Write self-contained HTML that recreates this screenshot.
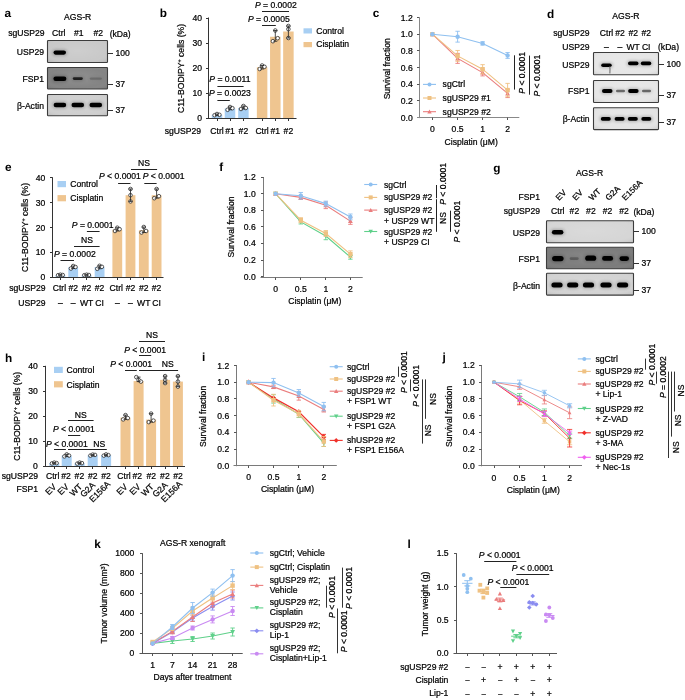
<!DOCTYPE html>
<html><head><meta charset="utf-8"><style>
html,body{margin:0;padding:0;background:#fff;}
svg{display:block;will-change:transform;font-family:"Liberation Sans",sans-serif;font-size:8.6px;}
text{stroke:#000;stroke-width:0.22px;}
</style></head><body>
<svg width="685" height="700" viewBox="0 0 685 700">
<defs><filter id="bl" x="-30%" y="-60%" width="160%" height="220%"><feGaussianBlur stdDeviation="0.75"/></filter>
<filter id="bl2" x="-40%" y="-100%" width="180%" height="300%"><feGaussianBlur stdDeviation="1.4"/></filter>
<radialGradient id="vg" cx="0.5" cy="0.45" r="0.7"><stop offset="0" stop-color="#fff" stop-opacity="0.10"/><stop offset="0.7" stop-color="#fff" stop-opacity="0.0"/><stop offset="1" stop-color="#000" stop-opacity="0.08"/></radialGradient></defs>
<rect width="685" height="700" fill="#fff"/>
<text x="4.4" y="16.8" font-size="11.8" font-weight="bold" fill="#000" style="stroke:none;text-rendering:geometricPrecision">a</text>
<text x="77.7" y="19.5" text-anchor="middle" fill="#000">AGS-R</text>
<text x="8.2" y="35.8" fill="#000">sgUSP29</text>
<text x="58.8" y="35.8" text-anchor="middle" fill="#000">Ctrl</text>
<text x="78.7" y="35.8" text-anchor="middle" fill="#000">#1</text>
<text x="98.2" y="35.8" text-anchor="middle" fill="#000">#2</text>
<text x="109.7" y="37.2" fill="#000">(kDa)</text>
<rect x="47.5" y="40.5" width="60" height="22" fill="#c9c9c9" stroke="none" stroke-width="1"/>
<rect x="47.5" y="40.5" width="60" height="22" fill="url(#vg)"/>
<rect x="47.5" y="40.5" width="60" height="22" rx="0.8" fill="none" stroke="#3c3c3c" stroke-width="1.1"/>
<rect x="47.5" y="67.5" width="60" height="21.5" fill="#848484" stroke="none" stroke-width="1"/>
<rect x="47.5" y="67.5" width="60" height="21.5" fill="url(#vg)"/>
<rect x="47.5" y="67.5" width="60" height="21.5" rx="0.8" fill="none" stroke="#3c3c3c" stroke-width="1.1"/>
<rect x="47.5" y="94.5" width="60" height="21.3" fill="#cfcfcf" stroke="none" stroke-width="1"/>
<rect x="47.5" y="94.5" width="60" height="21.3" fill="url(#vg)"/>
<rect x="47.5" y="94.5" width="60" height="21.3" rx="0.8" fill="none" stroke="#3c3c3c" stroke-width="1.1"/>
<text x="44" y="55.4" text-anchor="end" fill="#000">USP29</text>
<text x="44" y="81.8" text-anchor="end" fill="#000">FSP1</text>
<text x="44" y="109.2" text-anchor="end" fill="#000">β-Actin</text>
<rect x="52.3" y="49.5" width="14.9" height="6.2" rx="3.1" fill="#000" opacity="0.22" filter="url(#bl2)"/>
<rect x="53.5" y="50.5" width="12.5" height="4.2" rx="2.1" fill="#000" opacity="1.0" filter="url(#bl)"/>
<rect x="52.2" y="75.4" width="15.4" height="6.6" rx="3.3" fill="#000" opacity="0.22" filter="url(#bl2)"/>
<rect x="53.4" y="76.4" width="13" height="4.6" rx="2.3" fill="#000" opacity="1.0" filter="url(#bl)"/>
<rect x="71.6" y="76.3" width="12.4" height="4.6" rx="2.3" fill="#000" opacity="0.17" filter="url(#bl2)"/>
<rect x="72.8" y="77.3" width="10" height="2.6" rx="1.3" fill="#000" opacity="0.75" filter="url(#bl)"/>
<rect x="88.6" y="76.4" width="14.4" height="4.4" rx="2.2" fill="#000" opacity="0.04" filter="url(#bl2)"/>
<rect x="89.8" y="77.4" width="12" height="2.4" rx="1.2" fill="#000" opacity="0.18" filter="url(#bl)"/>
<rect x="52.4" y="101.7" width="15.0" height="6.6" rx="3.3" fill="#000" opacity="0.22" filter="url(#bl2)"/>
<rect x="53.6" y="102.7" width="12.6" height="4.6" rx="2.3" fill="#000" opacity="1.0" filter="url(#bl)"/>
<rect x="70.3" y="101.7" width="15.0" height="6.6" rx="3.3" fill="#000" opacity="0.22" filter="url(#bl2)"/>
<rect x="71.5" y="102.7" width="12.6" height="4.6" rx="2.3" fill="#000" opacity="1.0" filter="url(#bl)"/>
<rect x="88.3" y="101.7" width="15.0" height="6.6" rx="3.3" fill="#000" opacity="0.22" filter="url(#bl2)"/>
<rect x="89.5" y="102.7" width="12.6" height="4.6" rx="2.3" fill="#000" opacity="1.0" filter="url(#bl)"/>
<line x1="108" y1="53.5" x2="113" y2="53.5" stroke="#333" stroke-width="1"/>
<text x="115.5" y="56.1" fill="#000">100</text>
<line x1="108" y1="84.5" x2="113" y2="84.5" stroke="#333" stroke-width="1"/>
<text x="115.5" y="86.69999999999999" fill="#000">37</text>
<line x1="108" y1="110.5" x2="113" y2="110.5" stroke="#333" stroke-width="1"/>
<text x="115.5" y="113.1" fill="#000">37</text>
<text x="159.8" y="16.9" font-size="11.8" font-weight="bold" fill="#000" style="stroke:none;text-rendering:geometricPrecision">b</text>
<line x1="208.5" y1="17.5" x2="208.5" y2="118.5" stroke="#333" stroke-width="1"/>
<line x1="206.0" y1="118.5" x2="208.5" y2="118.5" stroke="#333" stroke-width="1"/>
<text x="202.0" y="121.0" text-anchor="end" fill="#000">0</text>
<line x1="206.0" y1="93.5" x2="208.5" y2="93.5" stroke="#333" stroke-width="1"/>
<text x="202.0" y="96.0" text-anchor="end" fill="#000">10</text>
<line x1="206.0" y1="68.5" x2="208.5" y2="68.5" stroke="#333" stroke-width="1"/>
<text x="202.0" y="71.0" text-anchor="end" fill="#000">20</text>
<line x1="206.0" y1="43.5" x2="208.5" y2="43.5" stroke="#333" stroke-width="1"/>
<text x="202.0" y="46.0" text-anchor="end" fill="#000">30</text>
<line x1="206.0" y1="18.5" x2="208.5" y2="18.5" stroke="#333" stroke-width="1"/>
<text x="202.0" y="21.0" text-anchor="end" fill="#000">40</text>
<text transform="translate(184.2,68.5) rotate(-90)" text-anchor="middle" fill="#000">C11-BODIPY<tspan dy="-3" font-size="5.5">+</tspan><tspan dy="3"> cells (%)</tspan></text>
<rect x="211.75" y="114.75" width="10.5" height="3.25" fill="#a8cff3" stroke="none" stroke-width="1"/>
<rect x="224.75" y="108.5" width="10.5" height="9.5" fill="#a8cff3" stroke="none" stroke-width="1"/>
<rect x="238.15" y="108.0" width="10.5" height="10.0" fill="#a8cff3" stroke="none" stroke-width="1"/>
<rect x="256.85" y="67.25" width="10.5" height="50.75" fill="#efc590" stroke="none" stroke-width="1"/>
<rect x="270.05" y="36.75" width="10.5" height="81.25" fill="#efc590" stroke="none" stroke-width="1"/>
<rect x="283.15" y="31.5" width="10.5" height="86.5" fill="#efc590" stroke="none" stroke-width="1"/>
<line x1="208" y1="118.5" x2="296.5" y2="118.5" stroke="#333" stroke-width="1"/>
<line x1="217.5" y1="118.5" x2="217.5" y2="121.0" stroke="#333" stroke-width="1"/>
<line x1="230.5" y1="118.5" x2="230.5" y2="121.0" stroke="#333" stroke-width="1"/>
<line x1="243.5" y1="118.5" x2="243.5" y2="121.0" stroke="#333" stroke-width="1"/>
<line x1="262.5" y1="118.5" x2="262.5" y2="121.0" stroke="#333" stroke-width="1"/>
<line x1="275.5" y1="118.5" x2="275.5" y2="121.0" stroke="#333" stroke-width="1"/>
<line x1="288.5" y1="118.5" x2="288.5" y2="121.0" stroke="#333" stroke-width="1"/>
<circle cx="214.6" cy="115.2" r="1.8" fill="#fff" stroke="#222" stroke-width="0.75"/>
<circle cx="217.0" cy="114.0" r="1.8" fill="#fff" stroke="#222" stroke-width="0.75"/>
<circle cx="219.4" cy="114.8" r="1.8" fill="#fff" stroke="#222" stroke-width="0.75"/>
<line x1="217.0" y1="114.0" x2="217.0" y2="115.25" stroke="#222" stroke-width="0.8"/>
<line x1="215.0" y1="114.0" x2="219.0" y2="114.0" stroke="#222" stroke-width="0.8"/>
<line x1="215.0" y1="115.25" x2="219.0" y2="115.25" stroke="#222" stroke-width="0.8"/>
<circle cx="227.6" cy="109.8" r="1.8" fill="#fff" stroke="#222" stroke-width="0.75"/>
<circle cx="230.0" cy="107.0" r="1.8" fill="#fff" stroke="#222" stroke-width="0.75"/>
<circle cx="232.4" cy="108.2" r="1.8" fill="#fff" stroke="#222" stroke-width="0.75"/>
<line x1="230.0" y1="107.0" x2="230.0" y2="109.75" stroke="#222" stroke-width="0.8"/>
<line x1="228.0" y1="107.0" x2="232.0" y2="107.0" stroke="#222" stroke-width="0.8"/>
<line x1="228.0" y1="109.75" x2="232.0" y2="109.75" stroke="#222" stroke-width="0.8"/>
<circle cx="241.0" cy="109.0" r="1.8" fill="#fff" stroke="#222" stroke-width="0.75"/>
<circle cx="243.4" cy="106.0" r="1.8" fill="#fff" stroke="#222" stroke-width="0.75"/>
<circle cx="245.8" cy="108.0" r="1.8" fill="#fff" stroke="#222" stroke-width="0.75"/>
<line x1="243.4" y1="106.0" x2="243.4" y2="109.0" stroke="#222" stroke-width="0.8"/>
<line x1="241.4" y1="106.0" x2="245.4" y2="106.0" stroke="#222" stroke-width="0.8"/>
<line x1="241.4" y1="109.0" x2="245.4" y2="109.0" stroke="#222" stroke-width="0.8"/>
<circle cx="259.7" cy="69.0" r="1.8" fill="#fff" stroke="#222" stroke-width="0.75"/>
<circle cx="262.1" cy="65.5" r="1.8" fill="#fff" stroke="#222" stroke-width="0.75"/>
<circle cx="264.5" cy="66.8" r="1.8" fill="#fff" stroke="#222" stroke-width="0.75"/>
<line x1="262.1" y1="65.5" x2="262.1" y2="69.0" stroke="#222" stroke-width="0.8"/>
<line x1="260.1" y1="65.5" x2="264.1" y2="65.5" stroke="#222" stroke-width="0.8"/>
<line x1="260.1" y1="69.0" x2="264.1" y2="69.0" stroke="#222" stroke-width="0.8"/>
<circle cx="272.9" cy="41.2" r="1.8" fill="#fff" stroke="#222" stroke-width="0.75"/>
<circle cx="275.3" cy="30.5" r="1.8" fill="#fff" stroke="#222" stroke-width="0.75"/>
<circle cx="277.7" cy="38.2" r="1.8" fill="#fff" stroke="#222" stroke-width="0.75"/>
<line x1="275.3" y1="30.5" x2="275.3" y2="41.25" stroke="#222" stroke-width="0.8"/>
<line x1="273.3" y1="30.5" x2="277.3" y2="30.5" stroke="#222" stroke-width="0.8"/>
<line x1="273.3" y1="41.25" x2="277.3" y2="41.25" stroke="#222" stroke-width="0.8"/>
<circle cx="288.4" cy="26.0" r="1.8" fill="#fff" stroke="#222" stroke-width="0.75"/>
<circle cx="288.4" cy="29.2" r="1.8" fill="#fff" stroke="#222" stroke-width="0.75"/>
<circle cx="288.4" cy="38.0" r="1.8" fill="#fff" stroke="#222" stroke-width="0.75"/>
<line x1="288.4" y1="26.0" x2="288.4" y2="38.0" stroke="#222" stroke-width="0.8"/>
<line x1="286.4" y1="26.0" x2="290.4" y2="26.0" stroke="#222" stroke-width="0.8"/>
<line x1="286.4" y1="38.0" x2="290.4" y2="38.0" stroke="#222" stroke-width="0.8"/>
<text x="201" y="133.8" text-anchor="end" fill="#000">sgUSP29</text>
<text x="217.0" y="133.8" text-anchor="middle" fill="#000">Ctrl</text>
<text x="230.0" y="133.8" text-anchor="middle" fill="#000">#1</text>
<text x="243.4" y="133.8" text-anchor="middle" fill="#000">#2</text>
<text x="262.1" y="133.8" text-anchor="middle" fill="#000">Ctrl</text>
<text x="275.3" y="133.8" text-anchor="middle" fill="#000">#1</text>
<text x="288.4" y="133.8" text-anchor="middle" fill="#000">#2</text>
<line x1="217.4" y1="86.5" x2="243.6" y2="86.5" stroke="#222" stroke-width="1"/>
<text x="229.9" y="82.4" text-anchor="middle" fill="#000"><tspan font-style="italic">P</tspan> = 0.0011</text>
<line x1="217.4" y1="100.5" x2="229.8" y2="100.5" stroke="#222" stroke-width="1"/>
<text x="229.9" y="96.4" text-anchor="middle" fill="#000"><tspan font-style="italic">P</tspan> = 0.0023</text>
<line x1="262" y1="11.5" x2="289" y2="11.5" stroke="#222" stroke-width="1"/>
<text x="275.8" y="8.4" text-anchor="middle" fill="#000"><tspan font-style="italic">P</tspan> = 0.0002</text>
<line x1="262" y1="25.5" x2="275.8" y2="25.5" stroke="#222" stroke-width="1"/>
<text x="268.8" y="22.3" text-anchor="middle" fill="#000"><tspan font-style="italic">P</tspan> = 0.0005</text>
<rect x="303.5" y="28.3" width="8.5" height="5.2" fill="#a8cff3" stroke="none" stroke-width="1"/>
<text x="316.2" y="33.7" fill="#000">Control</text>
<rect x="303.5" y="42.0" width="8.5" height="5.2" fill="#efc590" stroke="none" stroke-width="1"/>
<text x="316.2" y="47.4" fill="#000">Cisplatin</text>
<text x="372.8" y="17.4" font-size="11.8" font-weight="bold" fill="#000" style="stroke:none;text-rendering:geometricPrecision">c</text>
<line x1="419.5" y1="17.6" x2="419.5" y2="118.1" stroke="#888" stroke-width="1"/>
<line x1="417.0" y1="117.5" x2="419.5" y2="117.5" stroke="#555" stroke-width="1"/>
<text x="412.7" y="120.6" text-anchor="end" fill="#000">0.0</text>
<line x1="417.0" y1="100.5" x2="419.5" y2="100.5" stroke="#555" stroke-width="1"/>
<text x="412.7" y="103.91999999999999" text-anchor="end" fill="#000">0.2</text>
<line x1="417.0" y1="84.5" x2="419.5" y2="84.5" stroke="#555" stroke-width="1"/>
<text x="412.7" y="87.23999999999998" text-anchor="end" fill="#000">0.4</text>
<line x1="417.0" y1="67.5" x2="419.5" y2="67.5" stroke="#555" stroke-width="1"/>
<text x="412.7" y="70.56" text-anchor="end" fill="#000">0.6</text>
<line x1="417.0" y1="50.5" x2="419.5" y2="50.5" stroke="#555" stroke-width="1"/>
<text x="412.7" y="53.87999999999998" text-anchor="end" fill="#000">0.8</text>
<line x1="417.0" y1="34.5" x2="419.5" y2="34.5" stroke="#555" stroke-width="1"/>
<text x="412.7" y="37.19999999999999" text-anchor="end" fill="#000">1.0</text>
<line x1="417.0" y1="17.5" x2="419.5" y2="17.5" stroke="#555" stroke-width="1"/>
<text x="412.7" y="20.519999999999996" text-anchor="end" fill="#000">1.2</text>
<line x1="417" y1="117.5" x2="519.3" y2="117.5" stroke="#888" stroke-width="1"/>
<line x1="432.5" y1="117.5" x2="432.5" y2="120.0" stroke="#555" stroke-width="1"/>
<line x1="457.5" y1="117.5" x2="457.5" y2="120.0" stroke="#555" stroke-width="1"/>
<line x1="482.5" y1="117.5" x2="482.5" y2="120.0" stroke="#555" stroke-width="1"/>
<line x1="507.5" y1="117.5" x2="507.5" y2="120.0" stroke="#555" stroke-width="1"/>
<text x="432.4" y="132.2" text-anchor="middle" fill="#000">0</text>
<text x="457.6" y="132.2" text-anchor="middle" fill="#000">0.5</text>
<text x="482.6" y="132.2" text-anchor="middle" fill="#000">1</text>
<text x="507.6" y="132.2" text-anchor="middle" fill="#000">2</text>
<text x="471.2" y="144.6" text-anchor="middle" fill="#000">Cisplatin (μM)</text>
<text transform="translate(390.4,68.8) rotate(-90)" text-anchor="middle" fill="#000">Survival fraction</text>
<polyline points="432.4,34.2 457.6,58.4 482.6,72.6 507.6,93.4" fill="none" stroke="#ea7d7d" stroke-width="1.1"/>
<path d="M432.4,31.8 L434.8,36.2 L430.0,36.2Z" fill="#ea7d7d"/>
<line x1="457.6" y1="53.382" x2="457.6" y2="63.38999999999999" stroke="#ea7d7d" stroke-width="0.9"/>
<line x1="455.40000000000003" y1="53.382" x2="459.8" y2="53.382" stroke="#ea7d7d" stroke-width="0.9"/>
<line x1="455.40000000000003" y1="63.38999999999999" x2="459.8" y2="63.38999999999999" stroke="#ea7d7d" stroke-width="0.9"/>
<path d="M457.6,56.0 L460.0,60.4 L455.2,60.4Z" fill="#ea7d7d"/>
<line x1="482.6" y1="69.228" x2="482.6" y2="75.89999999999999" stroke="#ea7d7d" stroke-width="0.9"/>
<line x1="480.40000000000003" y1="69.228" x2="484.8" y2="69.228" stroke="#ea7d7d" stroke-width="0.9"/>
<line x1="480.40000000000003" y1="75.89999999999999" x2="484.8" y2="75.89999999999999" stroke="#ea7d7d" stroke-width="0.9"/>
<path d="M482.6,70.1 L485.0,74.5 L480.2,74.5Z" fill="#ea7d7d"/>
<line x1="507.6" y1="89.24399999999999" x2="507.6" y2="97.58399999999999" stroke="#ea7d7d" stroke-width="0.9"/>
<line x1="505.40000000000003" y1="89.24399999999999" x2="509.8" y2="89.24399999999999" stroke="#ea7d7d" stroke-width="0.9"/>
<line x1="505.40000000000003" y1="97.58399999999999" x2="509.8" y2="97.58399999999999" stroke="#ea7d7d" stroke-width="0.9"/>
<path d="M507.6,91.0 L510.0,95.4 L505.2,95.4Z" fill="#ea7d7d"/>
<polyline points="432.4,34.2 457.6,55.9 482.6,69.2 507.6,90.1" fill="none" stroke="#efc182" stroke-width="1.1"/>
<rect x="430.2" y="32.0" width="4.4" height="4.4" fill="#efc182"/>
<line x1="457.6" y1="50.462999999999994" x2="457.6" y2="61.30499999999999" stroke="#efc182" stroke-width="0.9"/>
<line x1="455.40000000000003" y1="50.462999999999994" x2="459.8" y2="50.462999999999994" stroke="#efc182" stroke-width="0.9"/>
<line x1="455.40000000000003" y1="61.30499999999999" x2="459.8" y2="61.30499999999999" stroke="#efc182" stroke-width="0.9"/>
<rect x="455.4" y="53.7" width="4.4" height="4.4" fill="#efc182"/>
<line x1="482.6" y1="64.64099999999999" x2="482.6" y2="73.815" stroke="#efc182" stroke-width="0.9"/>
<line x1="480.40000000000003" y1="64.64099999999999" x2="484.8" y2="64.64099999999999" stroke="#efc182" stroke-width="0.9"/>
<line x1="480.40000000000003" y1="73.815" x2="484.8" y2="73.815" stroke="#efc182" stroke-width="0.9"/>
<rect x="480.4" y="67.0" width="4.4" height="4.4" fill="#efc182"/>
<line x1="507.6" y1="83.40599999999999" x2="507.6" y2="96.74999999999999" stroke="#efc182" stroke-width="0.9"/>
<line x1="505.40000000000003" y1="83.40599999999999" x2="509.8" y2="83.40599999999999" stroke="#efc182" stroke-width="0.9"/>
<line x1="505.40000000000003" y1="96.74999999999999" x2="509.8" y2="96.74999999999999" stroke="#efc182" stroke-width="0.9"/>
<rect x="505.4" y="87.9" width="4.4" height="4.4" fill="#efc182"/>
<polyline points="432.4,34.2 457.6,36.7 482.6,43.4 507.6,55.5" fill="none" stroke="#8fc0f0" stroke-width="1.1"/>
<circle cx="432.4" cy="34.2" r="2.2" fill="#8fc0f0"/>
<line x1="457.6" y1="31.280999999999985" x2="457.6" y2="42.12299999999998" stroke="#8fc0f0" stroke-width="0.9"/>
<line x1="455.40000000000003" y1="31.280999999999985" x2="459.8" y2="31.280999999999985" stroke="#8fc0f0" stroke-width="0.9"/>
<line x1="455.40000000000003" y1="42.12299999999998" x2="459.8" y2="42.12299999999998" stroke="#8fc0f0" stroke-width="0.9"/>
<circle cx="457.6" cy="36.7" r="2.2" fill="#8fc0f0"/>
<line x1="482.6" y1="41.705999999999996" x2="482.6" y2="45.041999999999994" stroke="#8fc0f0" stroke-width="0.9"/>
<line x1="480.40000000000003" y1="41.705999999999996" x2="484.8" y2="41.705999999999996" stroke="#8fc0f0" stroke-width="0.9"/>
<line x1="480.40000000000003" y1="45.041999999999994" x2="484.8" y2="45.041999999999994" stroke="#8fc0f0" stroke-width="0.9"/>
<circle cx="482.6" cy="43.4" r="2.2" fill="#8fc0f0"/>
<line x1="507.6" y1="52.54799999999999" x2="507.6" y2="58.385999999999996" stroke="#8fc0f0" stroke-width="0.9"/>
<line x1="505.40000000000003" y1="52.54799999999999" x2="509.8" y2="52.54799999999999" stroke="#8fc0f0" stroke-width="0.9"/>
<line x1="505.40000000000003" y1="58.385999999999996" x2="509.8" y2="58.385999999999996" stroke="#8fc0f0" stroke-width="0.9"/>
<circle cx="507.6" cy="55.5" r="2.2" fill="#8fc0f0"/>
<line x1="423" y1="84.4" x2="436" y2="84.4" stroke="#8fc0f0" stroke-width="1.1"/>
<circle cx="429.5" cy="84.4" r="2.0" fill="#8fc0f0"/>
<text x="442.6" y="87.4" fill="#000">sgCtrl</text>
<line x1="423" y1="98.0" x2="436" y2="98.0" stroke="#efc182" stroke-width="1.1"/>
<rect x="427.5" y="96.0" width="4.0" height="4.0" fill="#efc182"/>
<text x="442.6" y="101.0" fill="#000">sgUSP29 #1</text>
<line x1="423" y1="111.7" x2="436" y2="111.7" stroke="#ea7d7d" stroke-width="1.1"/>
<path d="M429.5,109.5 L431.7,113.5 L427.3,113.5Z" fill="#ea7d7d"/>
<text x="442.6" y="114.7" fill="#000">sgUSP29 #2</text>
<line x1="514.5" y1="55.3" x2="514.5" y2="89.6" stroke="#222" stroke-width="1"/>
<text transform="translate(524.5,72.8) rotate(-90)" text-anchor="middle" fill="#000"><tspan font-style="italic">P</tspan> &lt; 0.0001</text>
<line x1="529.5" y1="55.6" x2="529.5" y2="94.7" stroke="#222" stroke-width="1"/>
<text transform="translate(539.6,75.6) rotate(-90)" text-anchor="middle" fill="#000"><tspan font-style="italic">P</tspan> &lt; 0.0001</text>
<text x="547" y="17.6" font-size="11.8" font-weight="bold" fill="#000" style="stroke:none;text-rendering:geometricPrecision">d</text>
<text x="625.9" y="18.6" text-anchor="middle" fill="#000">AGS-R</text>
<text x="589.6" y="35.7" text-anchor="end" fill="#000">sgUSP29</text>
<text x="606.5" y="35.7" text-anchor="middle" fill="#000">Ctrl</text>
<text x="620.0" y="35.7" text-anchor="middle" fill="#000">#2</text>
<text x="633.2" y="35.7" text-anchor="middle" fill="#000">#2</text>
<text x="646.2" y="35.7" text-anchor="middle" fill="#000">#2</text>
<text x="589.6" y="49.8" text-anchor="end" fill="#000">USP29</text>
<text x="606.5" y="49.8" text-anchor="middle" fill="#000">–</text>
<text x="620.0" y="49.8" text-anchor="middle" fill="#000">–</text>
<text x="633.2" y="49.8" text-anchor="middle" fill="#000">WT</text>
<text x="646.2" y="49.8" text-anchor="middle" fill="#000">CI</text>
<text x="658" y="49.8" fill="#000">(kDa)</text>
<rect x="593.5" y="52.5" width="65" height="22.3" fill="#e6e6e6" stroke="none" stroke-width="1"/>
<rect x="593.5" y="52.5" width="65" height="22.3" fill="url(#vg)"/>
<rect x="593.5" y="52.5" width="65" height="22.3" rx="0.8" fill="none" stroke="#3c3c3c" stroke-width="1.1"/>
<rect x="593.5" y="80.5" width="65" height="22" fill="#e6e6e6" stroke="none" stroke-width="1"/>
<rect x="593.5" y="80.5" width="65" height="22" fill="url(#vg)"/>
<rect x="593.5" y="80.5" width="65" height="22" rx="0.8" fill="none" stroke="#3c3c3c" stroke-width="1.1"/>
<rect x="593.5" y="107.8" width="65" height="21.8" fill="#e4e4e4" stroke="none" stroke-width="1"/>
<rect x="593.5" y="107.8" width="65" height="21.8" fill="url(#vg)"/>
<rect x="593.5" y="107.8" width="65" height="21.8" rx="0.8" fill="none" stroke="#3c3c3c" stroke-width="1.1"/>
<text x="589.6" y="67.8" text-anchor="end" fill="#000">USP29</text>
<text x="589.6" y="94.3" text-anchor="end" fill="#000">FSP1</text>
<text x="589.6" y="121.5" text-anchor="end" fill="#000">β-Actin</text>
<rect x="600.0" y="62.5" width="12.9" height="5.6" rx="2.8" fill="#000" opacity="0.22" filter="url(#bl2)"/>
<rect x="601.2" y="63.5" width="10.5" height="3.6" rx="1.8" fill="#000" opacity="1.0" filter="url(#bl)"/>
<path d="M609.5,66 Q610.5,69 609.8,73.5" stroke="#555" stroke-width="1.6" fill="none" opacity="0.55" filter="url(#bl)"/>
<rect x="626.8" y="60.6" width="12.9" height="5.6" rx="2.8" fill="#000" opacity="0.22" filter="url(#bl2)"/>
<rect x="628.0" y="61.6" width="10.5" height="3.6" rx="1.8" fill="#000" opacity="1.0" filter="url(#bl)"/>
<rect x="639.5" y="60.6" width="12.9" height="5.6" rx="2.8" fill="#000" opacity="0.22" filter="url(#bl2)"/>
<rect x="640.8" y="61.6" width="10.5" height="3.6" rx="1.8" fill="#000" opacity="1.0" filter="url(#bl)"/>
<rect x="600.8" y="88.0" width="12.9" height="6.0" rx="3.0" fill="#000" opacity="0.22" filter="url(#bl2)"/>
<rect x="602.0" y="89.0" width="10.5" height="4.0" rx="2.0" fill="#000" opacity="1.0" filter="url(#bl)"/>
<rect x="614.8" y="88.7" width="11.4" height="4.6" rx="2.3" fill="#000" opacity="0.11" filter="url(#bl2)"/>
<rect x="616.0" y="89.7" width="9.0" height="2.6" rx="1.3" fill="#000" opacity="0.5" filter="url(#bl)"/>
<rect x="626.9" y="88.0" width="12.9" height="6.0" rx="3.0" fill="#000" opacity="0.22" filter="url(#bl2)"/>
<rect x="628.1" y="89.0" width="10.5" height="4.0" rx="2.0" fill="#000" opacity="1.0" filter="url(#bl)"/>
<rect x="640.8" y="88.7" width="11.4" height="4.6" rx="2.3" fill="#000" opacity="0.11" filter="url(#bl2)"/>
<rect x="642.0" y="89.7" width="9.0" height="2.6" rx="1.3" fill="#000" opacity="0.5" filter="url(#bl)"/>
<rect x="599.6" y="116.1" width="12.4" height="5.6" rx="2.8" fill="#000" opacity="0.22" filter="url(#bl2)"/>
<rect x="600.8" y="117.1" width="10" height="3.6" rx="1.8" fill="#000" opacity="1.0" filter="url(#bl)"/>
<rect x="613.4" y="116.1" width="12.4" height="5.6" rx="2.8" fill="#000" opacity="0.22" filter="url(#bl2)"/>
<rect x="614.6" y="117.1" width="10" height="3.6" rx="1.8" fill="#000" opacity="1.0" filter="url(#bl)"/>
<rect x="626.6" y="116.1" width="12.4" height="5.6" rx="2.8" fill="#000" opacity="0.22" filter="url(#bl2)"/>
<rect x="627.8" y="117.1" width="10" height="3.6" rx="1.8" fill="#000" opacity="1.0" filter="url(#bl)"/>
<rect x="640.1" y="116.1" width="12.4" height="5.6" rx="2.8" fill="#000" opacity="0.22" filter="url(#bl2)"/>
<rect x="641.3" y="117.1" width="10" height="3.6" rx="1.8" fill="#000" opacity="1.0" filter="url(#bl)"/>
<line x1="659" y1="64.5" x2="664" y2="64.5" stroke="#333" stroke-width="1"/>
<text x="666.5" y="67.3" fill="#000">100</text>
<line x1="659" y1="95.5" x2="664" y2="95.5" stroke="#333" stroke-width="1"/>
<text x="666.5" y="97.89999999999999" fill="#000">37</text>
<line x1="659" y1="122.5" x2="664" y2="122.5" stroke="#333" stroke-width="1"/>
<text x="666.5" y="125.1" fill="#000">37</text>
<text x="5.0" y="170.6" font-size="11.8" font-weight="bold" fill="#000" style="stroke:none;text-rendering:geometricPrecision">e</text>
<line x1="52.5" y1="177.3" x2="52.5" y2="277.7" stroke="#333" stroke-width="1"/>
<line x1="50.0" y1="277.5" x2="52.5" y2="277.5" stroke="#333" stroke-width="1"/>
<text x="45.4" y="280.2" text-anchor="end" fill="#000">0</text>
<line x1="50.0" y1="252.5" x2="52.5" y2="252.5" stroke="#333" stroke-width="1"/>
<text x="45.4" y="255.35" text-anchor="end" fill="#000">10</text>
<line x1="50.0" y1="227.5" x2="52.5" y2="227.5" stroke="#333" stroke-width="1"/>
<text x="45.4" y="230.5" text-anchor="end" fill="#000">20</text>
<line x1="50.0" y1="202.5" x2="52.5" y2="202.5" stroke="#333" stroke-width="1"/>
<text x="45.4" y="205.64999999999998" text-anchor="end" fill="#000">30</text>
<line x1="50.0" y1="177.5" x2="52.5" y2="177.5" stroke="#333" stroke-width="1"/>
<text x="45.4" y="180.8" text-anchor="end" fill="#000">40</text>
<text transform="translate(28.0,227.5) rotate(-90)" text-anchor="middle" fill="#000">C11-BODIPY<tspan dy="-3" font-size="5.5">+</tspan><tspan dy="3"> cells (%)</tspan></text>
<rect x="55.5" y="275.212" width="9.8" height="1.9879999999999995" fill="#a8cff3" stroke="none" stroke-width="1"/>
<rect x="68.3" y="267.26" width="9.8" height="9.939999999999998" fill="#a8cff3" stroke="none" stroke-width="1"/>
<rect x="81.69999999999999" y="275.212" width="9.8" height="1.9879999999999995" fill="#a8cff3" stroke="none" stroke-width="1"/>
<rect x="94.69999999999999" y="267.0115" width="9.8" height="10.188499999999976" fill="#a8cff3" stroke="none" stroke-width="1"/>
<rect x="112.39999999999999" y="229.73649999999998" width="9.8" height="47.46350000000001" fill="#efc590" stroke="none" stroke-width="1"/>
<rect x="125.6" y="195.195" width="9.8" height="82.005" fill="#efc590" stroke="none" stroke-width="1"/>
<rect x="138.9" y="230.2335" width="9.8" height="46.966499999999996" fill="#efc590" stroke="none" stroke-width="1"/>
<rect x="151.7" y="195.195" width="9.8" height="82.005" fill="#efc590" stroke="none" stroke-width="1"/>
<line x1="52" y1="277.5" x2="163.5" y2="277.5" stroke="#333" stroke-width="1"/>
<line x1="60.5" y1="277.5" x2="60.5" y2="280.0" stroke="#333" stroke-width="1"/>
<line x1="73.5" y1="277.5" x2="73.5" y2="280.0" stroke="#333" stroke-width="1"/>
<line x1="86.5" y1="277.5" x2="86.5" y2="280.0" stroke="#333" stroke-width="1"/>
<line x1="99.5" y1="277.5" x2="99.5" y2="280.0" stroke="#333" stroke-width="1"/>
<line x1="117.5" y1="277.5" x2="117.5" y2="280.0" stroke="#333" stroke-width="1"/>
<line x1="130.5" y1="277.5" x2="130.5" y2="280.0" stroke="#333" stroke-width="1"/>
<line x1="143.5" y1="277.5" x2="143.5" y2="280.0" stroke="#333" stroke-width="1"/>
<line x1="156.5" y1="277.5" x2="156.5" y2="280.0" stroke="#333" stroke-width="1"/>
<circle cx="58.1" cy="275.2" r="1.8" fill="#fff" stroke="#222" stroke-width="0.75"/>
<circle cx="60.4" cy="274.7" r="1.8" fill="#fff" stroke="#222" stroke-width="0.75"/>
<circle cx="62.7" cy="275.0" r="1.8" fill="#fff" stroke="#222" stroke-width="0.75"/>
<line x1="60.4" y1="274.715" x2="60.4" y2="275.212" stroke="#222" stroke-width="0.8"/>
<line x1="58.4" y1="274.715" x2="62.4" y2="274.715" stroke="#222" stroke-width="0.8"/>
<line x1="58.4" y1="275.212" x2="62.4" y2="275.212" stroke="#222" stroke-width="0.8"/>
<circle cx="70.9" cy="268.5" r="1.8" fill="#fff" stroke="#222" stroke-width="0.75"/>
<circle cx="73.2" cy="266.0" r="1.8" fill="#fff" stroke="#222" stroke-width="0.75"/>
<circle cx="75.5" cy="267.0" r="1.8" fill="#fff" stroke="#222" stroke-width="0.75"/>
<line x1="73.2" y1="266.0175" x2="73.2" y2="268.5025" stroke="#222" stroke-width="0.8"/>
<line x1="71.2" y1="266.0175" x2="75.2" y2="266.0175" stroke="#222" stroke-width="0.8"/>
<line x1="71.2" y1="268.5025" x2="75.2" y2="268.5025" stroke="#222" stroke-width="0.8"/>
<circle cx="84.3" cy="275.2" r="1.8" fill="#fff" stroke="#222" stroke-width="0.75"/>
<circle cx="86.6" cy="274.7" r="1.8" fill="#fff" stroke="#222" stroke-width="0.75"/>
<circle cx="88.9" cy="275.0" r="1.8" fill="#fff" stroke="#222" stroke-width="0.75"/>
<line x1="86.6" y1="274.715" x2="86.6" y2="275.212" stroke="#222" stroke-width="0.8"/>
<line x1="84.6" y1="274.715" x2="88.6" y2="274.715" stroke="#222" stroke-width="0.8"/>
<line x1="84.6" y1="275.212" x2="88.6" y2="275.212" stroke="#222" stroke-width="0.8"/>
<circle cx="97.3" cy="268.8" r="1.8" fill="#fff" stroke="#222" stroke-width="0.75"/>
<circle cx="99.6" cy="265.8" r="1.8" fill="#fff" stroke="#222" stroke-width="0.75"/>
<circle cx="101.9" cy="266.8" r="1.8" fill="#fff" stroke="#222" stroke-width="0.75"/>
<line x1="99.6" y1="265.769" x2="99.6" y2="268.751" stroke="#222" stroke-width="0.8"/>
<line x1="97.6" y1="265.769" x2="101.6" y2="265.769" stroke="#222" stroke-width="0.8"/>
<line x1="97.6" y1="268.751" x2="101.6" y2="268.751" stroke="#222" stroke-width="0.8"/>
<circle cx="115.0" cy="231.0" r="1.8" fill="#fff" stroke="#222" stroke-width="0.75"/>
<circle cx="117.3" cy="227.7" r="1.8" fill="#fff" stroke="#222" stroke-width="0.75"/>
<circle cx="119.6" cy="229.2" r="1.8" fill="#fff" stroke="#222" stroke-width="0.75"/>
<line x1="117.3" y1="227.74849999999998" x2="117.3" y2="230.97899999999998" stroke="#222" stroke-width="0.8"/>
<line x1="115.3" y1="227.74849999999998" x2="119.3" y2="227.74849999999998" stroke="#222" stroke-width="0.8"/>
<line x1="115.3" y1="230.97899999999998" x2="119.3" y2="230.97899999999998" stroke="#222" stroke-width="0.8"/>
<circle cx="130.5" cy="201.4" r="1.8" fill="#fff" stroke="#222" stroke-width="0.75"/>
<circle cx="130.5" cy="195.2" r="1.8" fill="#fff" stroke="#222" stroke-width="0.75"/>
<circle cx="130.5" cy="189.0" r="1.8" fill="#fff" stroke="#222" stroke-width="0.75"/>
<line x1="130.5" y1="188.9825" x2="130.5" y2="201.4075" stroke="#222" stroke-width="0.8"/>
<line x1="128.5" y1="188.9825" x2="132.5" y2="188.9825" stroke="#222" stroke-width="0.8"/>
<line x1="128.5" y1="201.4075" x2="132.5" y2="201.4075" stroke="#222" stroke-width="0.8"/>
<circle cx="141.5" cy="232.5" r="1.8" fill="#fff" stroke="#222" stroke-width="0.75"/>
<circle cx="143.8" cy="227.0" r="1.8" fill="#fff" stroke="#222" stroke-width="0.75"/>
<circle cx="146.1" cy="231.0" r="1.8" fill="#fff" stroke="#222" stroke-width="0.75"/>
<line x1="143.8" y1="227.003" x2="143.8" y2="232.47" stroke="#222" stroke-width="0.8"/>
<line x1="141.8" y1="227.003" x2="145.8" y2="227.003" stroke="#222" stroke-width="0.8"/>
<line x1="141.8" y1="232.47" x2="145.8" y2="232.47" stroke="#222" stroke-width="0.8"/>
<circle cx="154.3" cy="198.2" r="1.8" fill="#fff" stroke="#222" stroke-width="0.75"/>
<circle cx="156.6" cy="189.0" r="1.8" fill="#fff" stroke="#222" stroke-width="0.75"/>
<circle cx="158.9" cy="196.2" r="1.8" fill="#fff" stroke="#222" stroke-width="0.75"/>
<line x1="156.6" y1="188.9825" x2="156.6" y2="198.177" stroke="#222" stroke-width="0.8"/>
<line x1="154.6" y1="188.9825" x2="158.6" y2="188.9825" stroke="#222" stroke-width="0.8"/>
<line x1="154.6" y1="198.177" x2="158.6" y2="198.177" stroke="#222" stroke-width="0.8"/>
<text x="45.5" y="290.6" text-anchor="end" fill="#000">sgUSP29</text>
<text x="59.4" y="290.6" text-anchor="middle" fill="#000">Ctrl</text>
<text x="73.2" y="290.6" text-anchor="middle" fill="#000">#2</text>
<text x="86.6" y="290.6" text-anchor="middle" fill="#000">#2</text>
<text x="99.6" y="290.6" text-anchor="middle" fill="#000">#2</text>
<text x="116.3" y="290.6" text-anchor="middle" fill="#000">Ctrl</text>
<text x="130.5" y="290.6" text-anchor="middle" fill="#000">#2</text>
<text x="143.8" y="290.6" text-anchor="middle" fill="#000">#2</text>
<text x="156.6" y="290.6" text-anchor="middle" fill="#000">#2</text>
<text x="45.5" y="305.5" text-anchor="end" fill="#000">USP29</text>
<text x="60.4" y="305.5" text-anchor="middle" fill="#000">–</text>
<text x="73.2" y="305.5" text-anchor="middle" fill="#000">–</text>
<text x="86.6" y="305.5" text-anchor="middle" fill="#000">WT</text>
<text x="99.6" y="305.5" text-anchor="middle" fill="#000">CI</text>
<text x="117.3" y="305.5" text-anchor="middle" fill="#000">–</text>
<text x="130.5" y="305.5" text-anchor="middle" fill="#000">–</text>
<text x="143.8" y="305.5" text-anchor="middle" fill="#000">WT</text>
<text x="156.6" y="305.5" text-anchor="middle" fill="#000">CI</text>
<line x1="60.5" y1="260.5" x2="74" y2="260.5" stroke="#222" stroke-width="1"/>
<text x="74.8" y="257.4" text-anchor="middle" fill="#000"><tspan font-style="italic">P</tspan> = 0.0002</text>
<line x1="74" y1="246.5" x2="99.6" y2="246.5" stroke="#222" stroke-width="1"/>
<text x="86.9" y="243.4" text-anchor="middle" fill="#000">NS</text>
<line x1="86.9" y1="231.5" x2="99.6" y2="231.5" stroke="#222" stroke-width="1"/>
<text x="92.7" y="228.1" text-anchor="middle" fill="#000"><tspan font-style="italic">P</tspan> = 0.0001</text>
<line x1="118.1" y1="183.5" x2="130.5" y2="183.5" stroke="#222" stroke-width="1"/>
<text x="119.9" y="179.3" text-anchor="middle" fill="#000"><tspan font-style="italic">P</tspan> &lt; 0.0001</text>
<line x1="144.3" y1="183.5" x2="156.6" y2="183.5" stroke="#222" stroke-width="1"/>
<text x="163.6" y="179.3" text-anchor="middle" fill="#000"><tspan font-style="italic">P</tspan> &lt; 0.0001</text>
<line x1="131" y1="169.5" x2="157.1" y2="169.5" stroke="#222" stroke-width="1"/>
<text x="143.9" y="166.1" text-anchor="middle" fill="#000">NS</text>
<rect x="57.5" y="181" width="8.5" height="6.2" fill="#a8cff3" stroke="none" stroke-width="1"/>
<text x="70.3" y="187.2" fill="#000">Control</text>
<rect x="57.5" y="195.1" width="8.5" height="6.2" fill="#efc590" stroke="none" stroke-width="1"/>
<text x="70.3" y="201.3" fill="#000">Cisplatin</text>
<text x="219.2" y="170.6" font-size="11.8" font-weight="bold" fill="#000" style="stroke:none;text-rendering:geometricPrecision">f</text>
<line x1="263.5" y1="177.0" x2="263.5" y2="277.1" stroke="#7a7a7a" stroke-width="1"/>
<line x1="261.0" y1="276.5" x2="263.5" y2="276.5" stroke="#555" stroke-width="1"/>
<text x="255.7" y="279.6" text-anchor="end" fill="#000">0.0</text>
<line x1="261.0" y1="260.5" x2="263.5" y2="260.5" stroke="#555" stroke-width="1"/>
<text x="255.7" y="263.02000000000004" text-anchor="end" fill="#000">0.2</text>
<line x1="261.0" y1="243.5" x2="263.5" y2="243.5" stroke="#555" stroke-width="1"/>
<text x="255.7" y="246.44000000000003" text-anchor="end" fill="#000">0.4</text>
<line x1="261.0" y1="226.5" x2="263.5" y2="226.5" stroke="#555" stroke-width="1"/>
<text x="255.7" y="229.86" text-anchor="end" fill="#000">0.6</text>
<line x1="261.0" y1="210.5" x2="263.5" y2="210.5" stroke="#555" stroke-width="1"/>
<text x="255.7" y="213.28000000000003" text-anchor="end" fill="#000">0.8</text>
<line x1="261.0" y1="193.5" x2="263.5" y2="193.5" stroke="#555" stroke-width="1"/>
<text x="255.7" y="196.70000000000002" text-anchor="end" fill="#000">1.0</text>
<line x1="261.0" y1="177.5" x2="263.5" y2="177.5" stroke="#555" stroke-width="1"/>
<text x="255.7" y="180.12" text-anchor="end" fill="#000">1.2</text>
<line x1="260.5" y1="277.5" x2="362.7" y2="277.5" stroke="#7a7a7a" stroke-width="1"/>
<line x1="275.5" y1="277.5" x2="275.5" y2="280.0" stroke="#555" stroke-width="1"/>
<line x1="300.5" y1="277.5" x2="300.5" y2="280.0" stroke="#555" stroke-width="1"/>
<line x1="325.5" y1="277.5" x2="325.5" y2="280.0" stroke="#555" stroke-width="1"/>
<line x1="350.5" y1="277.5" x2="350.5" y2="280.0" stroke="#555" stroke-width="1"/>
<text x="275.6" y="292.2" text-anchor="middle" fill="#000">0</text>
<text x="300.8" y="292.2" text-anchor="middle" fill="#000">0.5</text>
<text x="325.8" y="292.2" text-anchor="middle" fill="#000">1</text>
<text x="350.4" y="292.2" text-anchor="middle" fill="#000">2</text>
<text x="314.8" y="303.9" text-anchor="middle" fill="#000">Cisplatin (μM)</text>
<text transform="translate(233.7,227.0) rotate(-90)" text-anchor="middle" fill="#000">Survival fraction</text>
<polyline points="275.6,193.7 300.8,221.9 325.8,236.0 350.4,257.1" fill="none" stroke="#5fd08a" stroke-width="1.1"/>
<path d="M275.6,196.1 L278.0,191.7 L273.2,191.7Z" fill="#5fd08a"/>
<line x1="300.8" y1="219.81350000000003" x2="300.8" y2="223.95850000000002" stroke="#5fd08a" stroke-width="0.9"/>
<line x1="298.6" y1="219.81350000000003" x2="303.0" y2="219.81350000000003" stroke="#5fd08a" stroke-width="0.9"/>
<line x1="298.6" y1="223.95850000000002" x2="303.0" y2="223.95850000000002" stroke="#5fd08a" stroke-width="0.9"/>
<path d="M300.8,224.3 L303.2,219.9 L298.4,219.9Z" fill="#5fd08a"/>
<line x1="325.8" y1="232.2485" x2="325.8" y2="239.70950000000002" stroke="#5fd08a" stroke-width="0.9"/>
<line x1="323.6" y1="232.2485" x2="328.0" y2="232.2485" stroke="#5fd08a" stroke-width="0.9"/>
<line x1="323.6" y1="239.70950000000002" x2="328.0" y2="239.70950000000002" stroke="#5fd08a" stroke-width="0.9"/>
<path d="M325.8,238.4 L328.2,234.0 L323.4,234.0Z" fill="#5fd08a"/>
<line x1="350.4" y1="255.04600000000005" x2="350.4" y2="259.19100000000003" stroke="#5fd08a" stroke-width="0.9"/>
<line x1="348.2" y1="255.04600000000005" x2="352.59999999999997" y2="255.04600000000005" stroke="#5fd08a" stroke-width="0.9"/>
<line x1="348.2" y1="259.19100000000003" x2="352.59999999999997" y2="259.19100000000003" stroke="#5fd08a" stroke-width="0.9"/>
<path d="M350.4,259.5 L352.8,255.1 L348.0,255.1Z" fill="#5fd08a"/>
<polyline points="275.6,193.7 300.8,220.2 325.8,233.5 350.4,254.2" fill="none" stroke="#efc182" stroke-width="1.1"/>
<rect x="273.4" y="191.5" width="4.4" height="4.4" fill="#efc182"/>
<line x1="300.8" y1="217.741" x2="300.8" y2="222.715" stroke="#efc182" stroke-width="0.9"/>
<line x1="298.6" y1="217.741" x2="303.0" y2="217.741" stroke="#efc182" stroke-width="0.9"/>
<line x1="298.6" y1="222.715" x2="303.0" y2="222.715" stroke="#efc182" stroke-width="0.9"/>
<rect x="298.6" y="218.0" width="4.4" height="4.4" fill="#efc182"/>
<line x1="325.8" y1="230.59050000000002" x2="325.8" y2="236.39350000000002" stroke="#efc182" stroke-width="0.9"/>
<line x1="323.6" y1="230.59050000000002" x2="328.0" y2="230.59050000000002" stroke="#efc182" stroke-width="0.9"/>
<line x1="323.6" y1="236.39350000000002" x2="328.0" y2="236.39350000000002" stroke="#efc182" stroke-width="0.9"/>
<rect x="323.6" y="231.3" width="4.4" height="4.4" fill="#efc182"/>
<line x1="350.4" y1="250.901" x2="350.4" y2="257.533" stroke="#efc182" stroke-width="0.9"/>
<line x1="348.2" y1="250.901" x2="352.59999999999997" y2="250.901" stroke="#efc182" stroke-width="0.9"/>
<line x1="348.2" y1="257.533" x2="352.59999999999997" y2="257.533" stroke="#efc182" stroke-width="0.9"/>
<rect x="348.2" y="252.0" width="4.4" height="4.4" fill="#efc182"/>
<polyline points="275.6,193.7 300.8,197.4 325.8,205.3 350.4,221.1" fill="none" stroke="#ea7d7d" stroke-width="1.1"/>
<path d="M275.6,191.3 L278.0,195.7 L273.2,195.7Z" fill="#ea7d7d"/>
<line x1="300.8" y1="195.35800000000003" x2="300.8" y2="199.50300000000001" stroke="#ea7d7d" stroke-width="0.9"/>
<line x1="298.6" y1="195.35800000000003" x2="303.0" y2="195.35800000000003" stroke="#ea7d7d" stroke-width="0.9"/>
<line x1="298.6" y1="199.50300000000001" x2="303.0" y2="199.50300000000001" stroke="#ea7d7d" stroke-width="0.9"/>
<path d="M300.8,195.0 L303.2,199.4 L298.4,199.4Z" fill="#ea7d7d"/>
<line x1="325.8" y1="201.99000000000004" x2="325.8" y2="208.62200000000004" stroke="#ea7d7d" stroke-width="0.9"/>
<line x1="323.6" y1="201.99000000000004" x2="328.0" y2="201.99000000000004" stroke="#ea7d7d" stroke-width="0.9"/>
<line x1="323.6" y1="208.62200000000004" x2="328.0" y2="208.62200000000004" stroke="#ea7d7d" stroke-width="0.9"/>
<path d="M325.8,202.9 L328.2,207.3 L323.4,207.3Z" fill="#ea7d7d"/>
<line x1="350.4" y1="217.741" x2="350.4" y2="224.37300000000002" stroke="#ea7d7d" stroke-width="0.9"/>
<line x1="348.2" y1="217.741" x2="352.59999999999997" y2="217.741" stroke="#ea7d7d" stroke-width="0.9"/>
<line x1="348.2" y1="224.37300000000002" x2="352.59999999999997" y2="224.37300000000002" stroke="#ea7d7d" stroke-width="0.9"/>
<path d="M350.4,218.6 L352.8,223.0 L348.0,223.0Z" fill="#ea7d7d"/>
<polyline points="275.6,193.7 300.8,195.8 325.8,203.6 350.4,216.9" fill="none" stroke="#8fc0f0" stroke-width="1.1"/>
<circle cx="275.6" cy="193.7" r="2.2" fill="#8fc0f0"/>
<line x1="300.8" y1="192.45650000000003" x2="300.8" y2="199.08850000000004" stroke="#8fc0f0" stroke-width="0.9"/>
<line x1="298.6" y1="192.45650000000003" x2="303.0" y2="192.45650000000003" stroke="#8fc0f0" stroke-width="0.9"/>
<line x1="298.6" y1="199.08850000000004" x2="303.0" y2="199.08850000000004" stroke="#8fc0f0" stroke-width="0.9"/>
<circle cx="300.8" cy="195.8" r="2.2" fill="#8fc0f0"/>
<line x1="325.8" y1="201.16100000000003" x2="325.8" y2="206.13500000000002" stroke="#8fc0f0" stroke-width="0.9"/>
<line x1="323.6" y1="201.16100000000003" x2="328.0" y2="201.16100000000003" stroke="#8fc0f0" stroke-width="0.9"/>
<line x1="323.6" y1="206.13500000000002" x2="328.0" y2="206.13500000000002" stroke="#8fc0f0" stroke-width="0.9"/>
<circle cx="325.8" cy="203.6" r="2.2" fill="#8fc0f0"/>
<line x1="350.4" y1="214.01050000000004" x2="350.4" y2="219.81350000000003" stroke="#8fc0f0" stroke-width="0.9"/>
<line x1="348.2" y1="214.01050000000004" x2="352.59999999999997" y2="214.01050000000004" stroke="#8fc0f0" stroke-width="0.9"/>
<line x1="348.2" y1="219.81350000000003" x2="352.59999999999997" y2="219.81350000000003" stroke="#8fc0f0" stroke-width="0.9"/>
<circle cx="350.4" cy="216.9" r="2.2" fill="#8fc0f0"/>
<line x1="364.2" y1="184.5" x2="377.2" y2="184.5" stroke="#8fc0f0" stroke-width="1.1"/>
<circle cx="370.7" cy="184.5" r="2.0" fill="#8fc0f0"/>
<text x="384.0" y="187.5" fill="#000">sgCtrl</text>
<line x1="364.2" y1="197.4" x2="377.2" y2="197.4" stroke="#efc182" stroke-width="1.1"/>
<rect x="368.7" y="195.4" width="4.0" height="4.0" fill="#efc182"/>
<text x="384.0" y="200.4" fill="#000">sgUSP29 #2</text>
<line x1="364.2" y1="210.1" x2="377.2" y2="210.1" stroke="#ea7d7d" stroke-width="1.1"/>
<path d="M370.7,207.9 L372.9,211.9 L368.5,211.9Z" fill="#ea7d7d"/>
<text x="384.0" y="213.1" fill="#000">sgUSP29 #2</text>
<text x="384.0" y="223.7" fill="#000">+ USP29 WT</text>
<line x1="364.2" y1="231.5" x2="377.2" y2="231.5" stroke="#5fd08a" stroke-width="1.1"/>
<path d="M370.7,233.7 L372.9,229.7 L368.5,229.7Z" fill="#5fd08a"/>
<text x="384.0" y="234.5" fill="#000">sgUSP29 #2</text>
<text x="384.0" y="244.7" fill="#000">+ USP29 CI</text>
<line x1="436.5" y1="185" x2="436.5" y2="198.2" stroke="#222" stroke-width="1"/>
<line x1="436.5" y1="199.2" x2="436.5" y2="231.8" stroke="#222" stroke-width="1"/>
<text transform="translate(446.0,183.9) rotate(-90)" text-anchor="middle" fill="#000"><tspan font-style="italic">P</tspan> &lt; 0.0001</text>
<text transform="translate(446.0,218.1) rotate(-90)" text-anchor="middle" fill="#000">NS</text>
<line x1="450.5" y1="210.7" x2="450.5" y2="231.8" stroke="#222" stroke-width="1"/>
<text transform="translate(460.2,221.6) rotate(-90)" text-anchor="middle" fill="#000"><tspan font-style="italic">P</tspan> &lt; 0.0001</text>
<text x="493.3" y="171.8" font-size="11.8" font-weight="bold" fill="#000" style="stroke:none;text-rendering:geometricPrecision">g</text>
<text x="589.5" y="176.2" text-anchor="middle" fill="#000">AGS-R</text>
<text x="540.0" y="199.9" text-anchor="end" fill="#000">FSP1</text>
<text transform="translate(559.0999999999999,201.0) rotate(-45)" font-size="8.3">EV</text>
<text transform="translate(575.6999999999999,201.0) rotate(-45)" font-size="8.3">EV</text>
<text transform="translate(592.1999999999999,201.0) rotate(-45)" font-size="8.3">WT</text>
<text transform="translate(608.8,201.0) rotate(-45)" font-size="8.3">G2A</text>
<text transform="translate(625.3,201.0) rotate(-45)" font-size="8.3">E156A</text>
<text x="540.0" y="214.4" text-anchor="end" fill="#000">sgUSP29</text>
<text x="557.8" y="214.4" text-anchor="middle" fill="#000">Ctrl</text>
<text x="574.4" y="214.4" text-anchor="middle" fill="#000">#2</text>
<text x="590.9" y="214.4" text-anchor="middle" fill="#000">#2</text>
<text x="607.5" y="214.4" text-anchor="middle" fill="#000">#2</text>
<text x="624.0" y="214.4" text-anchor="middle" fill="#000">#2</text>
<text x="633.4" y="215.2" fill="#000">(kDa)</text>
<rect x="546.5" y="220.8" width="87" height="22" fill="#d6d6d6" stroke="none" stroke-width="1"/>
<rect x="546.5" y="220.8" width="87" height="22" fill="url(#vg)"/>
<rect x="546.5" y="220.8" width="87" height="22" rx="0.8" fill="none" stroke="#3c3c3c" stroke-width="1.1"/>
<rect x="546.5" y="247.3" width="87" height="21.5" fill="#7c7c7c" stroke="none" stroke-width="1"/>
<rect x="546.5" y="247.3" width="87" height="21.5" fill="url(#vg)"/>
<rect x="546.5" y="247.3" width="87" height="21.5" rx="0.8" fill="none" stroke="#3c3c3c" stroke-width="1.1"/>
<rect x="546.5" y="273.3" width="87" height="21.8" fill="#d3d3d3" stroke="none" stroke-width="1"/>
<rect x="546.5" y="273.3" width="87" height="21.8" fill="url(#vg)"/>
<rect x="546.5" y="273.3" width="87" height="21.8" rx="0.8" fill="none" stroke="#3c3c3c" stroke-width="1.1"/>
<text x="540.0" y="235.6" text-anchor="end" fill="#000">USP29</text>
<text x="540.0" y="261.8" text-anchor="end" fill="#000">FSP1</text>
<text x="540.0" y="288.5" text-anchor="end" fill="#000">β-Actin</text>
<rect x="550.6" y="229.1" width="13.9" height="6.4" rx="3.2" fill="#000" opacity="0.22" filter="url(#bl2)"/>
<rect x="551.9" y="230.1" width="11.5" height="4.4" rx="2.2" fill="#000" opacity="1.0" filter="url(#bl)"/>
<rect x="550.9" y="255.0" width="13.9" height="7.2" rx="3.6" fill="#000" opacity="0.22" filter="url(#bl2)"/>
<rect x="552.1" y="256.0" width="11.5" height="5.2" rx="2.6" fill="#000" opacity="1.0" filter="url(#bl)"/>
<rect x="568.5" y="256.3" width="11.4" height="4.6" rx="2.3" fill="#000" opacity="0.06" filter="url(#bl2)"/>
<rect x="569.7" y="257.3" width="9.0" height="2.6" rx="1.3" fill="#000" opacity="0.25" filter="url(#bl)"/>
<rect x="584.0" y="254.6" width="13.4" height="7.2" rx="3.6" fill="#000" opacity="0.22" filter="url(#bl2)"/>
<rect x="585.2" y="255.6" width="11.0" height="5.2" rx="2.6" fill="#000" opacity="1.0" filter="url(#bl)"/>
<rect x="600.9" y="255.1" width="13.4" height="6.6" rx="3.3" fill="#000" opacity="0.22" filter="url(#bl2)"/>
<rect x="602.1" y="256.1" width="11.0" height="4.6" rx="2.3" fill="#000" opacity="1.0" filter="url(#bl)"/>
<rect x="618.3" y="255.2" width="11.9" height="6.8" rx="3.4" fill="#000" opacity="0.22" filter="url(#bl2)"/>
<rect x="619.5" y="256.2" width="9.5" height="4.8" rx="2.4" fill="#000" opacity="1.0" filter="url(#bl)"/>
<rect x="550.2" y="281.5" width="13.6" height="7.0" rx="3.5" fill="#000" opacity="0.22" filter="url(#bl2)"/>
<rect x="551.4" y="282.5" width="11.2" height="5.0" rx="2.5" fill="#000" opacity="1.0" filter="url(#bl)"/>
<rect x="565.9" y="281.5" width="13.6" height="7.0" rx="3.5" fill="#000" opacity="0.22" filter="url(#bl2)"/>
<rect x="567.1" y="282.5" width="11.2" height="5.0" rx="2.5" fill="#000" opacity="1.0" filter="url(#bl)"/>
<rect x="581.7" y="281.5" width="13.6" height="7.0" rx="3.5" fill="#000" opacity="0.22" filter="url(#bl2)"/>
<rect x="582.9" y="282.5" width="11.2" height="5.0" rx="2.5" fill="#000" opacity="1.0" filter="url(#bl)"/>
<rect x="599.2" y="281.5" width="13.6" height="7.0" rx="3.5" fill="#000" opacity="0.22" filter="url(#bl2)"/>
<rect x="600.4" y="282.5" width="11.2" height="5.0" rx="2.5" fill="#000" opacity="1.0" filter="url(#bl)"/>
<rect x="615.8" y="281.5" width="13.6" height="7.0" rx="3.5" fill="#000" opacity="0.22" filter="url(#bl2)"/>
<rect x="617.0" y="282.5" width="11.2" height="5.0" rx="2.5" fill="#000" opacity="1.0" filter="url(#bl)"/>
<line x1="634" y1="231.5" x2="639" y2="231.5" stroke="#333" stroke-width="1"/>
<text x="641.5" y="234.1" fill="#000">100</text>
<line x1="634" y1="263.5" x2="639" y2="263.5" stroke="#333" stroke-width="1"/>
<text x="641.5" y="266.1" fill="#000">37</text>
<line x1="634" y1="290.5" x2="639" y2="290.5" stroke="#333" stroke-width="1"/>
<text x="641.5" y="293.1" fill="#000">37</text>
<text x="5.0" y="361.6" font-size="11.8" font-weight="bold" fill="#000" style="stroke:none;text-rendering:geometricPrecision">h</text>
<line x1="45.5" y1="365.8" x2="45.5" y2="466.6" stroke="#333" stroke-width="1"/>
<line x1="43.0" y1="466.5" x2="45.5" y2="466.5" stroke="#333" stroke-width="1"/>
<text x="37.9" y="469.1" text-anchor="end" fill="#000">0</text>
<line x1="43.0" y1="441.5" x2="45.5" y2="441.5" stroke="#333" stroke-width="1"/>
<text x="37.9" y="444.1" text-anchor="end" fill="#000">10</text>
<line x1="43.0" y1="416.5" x2="45.5" y2="416.5" stroke="#333" stroke-width="1"/>
<text x="37.9" y="419.1" text-anchor="end" fill="#000">20</text>
<line x1="43.0" y1="391.5" x2="45.5" y2="391.5" stroke="#333" stroke-width="1"/>
<text x="37.9" y="394.1" text-anchor="end" fill="#000">30</text>
<line x1="43.0" y1="366.5" x2="45.5" y2="366.5" stroke="#333" stroke-width="1"/>
<text x="37.9" y="369.1" text-anchor="end" fill="#000">40</text>
<text transform="translate(20.1,416.3) rotate(-90)" text-anchor="middle" fill="#000">C11-BODIPY<tspan dy="-3" font-size="5.5">+</tspan><tspan dy="3"> cells (%)</tspan></text>
<rect x="49.3" y="463.1" width="10.0" height="3.0" fill="#a8cff3" stroke="none" stroke-width="1"/>
<rect x="61.7" y="455.6" width="10.0" height="10.5" fill="#a8cff3" stroke="none" stroke-width="1"/>
<rect x="74.6" y="463.1" width="10.0" height="3.0" fill="#a8cff3" stroke="none" stroke-width="1"/>
<rect x="87.7" y="455.1" width="10.0" height="11.0" fill="#a8cff3" stroke="none" stroke-width="1"/>
<rect x="101.1" y="455.1" width="10.0" height="11.0" fill="#a8cff3" stroke="none" stroke-width="1"/>
<rect x="120.5" y="417.6" width="10.0" height="48.5" fill="#efc590" stroke="none" stroke-width="1"/>
<rect x="133.6" y="381.1" width="10.0" height="85.0" fill="#efc590" stroke="none" stroke-width="1"/>
<rect x="146.1" y="419.6" width="10.0" height="46.5" fill="#efc590" stroke="none" stroke-width="1"/>
<rect x="160.1" y="379.85" width="10.0" height="86.25" fill="#efc590" stroke="none" stroke-width="1"/>
<rect x="172.9" y="381.6" width="10.0" height="84.5" fill="#efc590" stroke="none" stroke-width="1"/>
<line x1="45" y1="466.5" x2="185.0" y2="466.5" stroke="#333" stroke-width="1"/>
<line x1="54.5" y1="466.5" x2="54.5" y2="469.0" stroke="#333" stroke-width="1"/>
<line x1="66.5" y1="466.5" x2="66.5" y2="469.0" stroke="#333" stroke-width="1"/>
<line x1="79.5" y1="466.5" x2="79.5" y2="469.0" stroke="#333" stroke-width="1"/>
<line x1="92.5" y1="466.5" x2="92.5" y2="469.0" stroke="#333" stroke-width="1"/>
<line x1="106.5" y1="466.5" x2="106.5" y2="469.0" stroke="#333" stroke-width="1"/>
<line x1="125.5" y1="466.5" x2="125.5" y2="469.0" stroke="#333" stroke-width="1"/>
<line x1="138.5" y1="466.5" x2="138.5" y2="469.0" stroke="#333" stroke-width="1"/>
<line x1="151.5" y1="466.5" x2="151.5" y2="469.0" stroke="#333" stroke-width="1"/>
<line x1="165.5" y1="466.5" x2="165.5" y2="469.0" stroke="#333" stroke-width="1"/>
<line x1="177.5" y1="466.5" x2="177.5" y2="469.0" stroke="#333" stroke-width="1"/>
<circle cx="52.0" cy="463.4" r="1.8" fill="#fff" stroke="#222" stroke-width="0.75"/>
<circle cx="54.3" cy="462.6" r="1.8" fill="#fff" stroke="#222" stroke-width="0.75"/>
<circle cx="56.6" cy="463.1" r="1.8" fill="#fff" stroke="#222" stroke-width="0.75"/>
<line x1="54.3" y1="462.6" x2="54.3" y2="463.35" stroke="#222" stroke-width="0.8"/>
<line x1="52.3" y1="462.6" x2="56.3" y2="462.6" stroke="#222" stroke-width="0.8"/>
<line x1="52.3" y1="463.35" x2="56.3" y2="463.35" stroke="#222" stroke-width="0.8"/>
<circle cx="64.4" cy="456.4" r="1.8" fill="#fff" stroke="#222" stroke-width="0.75"/>
<circle cx="66.7" cy="454.4" r="1.8" fill="#fff" stroke="#222" stroke-width="0.75"/>
<circle cx="69.0" cy="455.6" r="1.8" fill="#fff" stroke="#222" stroke-width="0.75"/>
<line x1="66.7" y1="454.35" x2="66.7" y2="456.35" stroke="#222" stroke-width="0.8"/>
<line x1="64.7" y1="454.35" x2="68.7" y2="454.35" stroke="#222" stroke-width="0.8"/>
<line x1="64.7" y1="456.35" x2="68.7" y2="456.35" stroke="#222" stroke-width="0.8"/>
<circle cx="77.3" cy="463.6" r="1.8" fill="#fff" stroke="#222" stroke-width="0.75"/>
<circle cx="79.6" cy="462.6" r="1.8" fill="#fff" stroke="#222" stroke-width="0.75"/>
<circle cx="81.9" cy="463.1" r="1.8" fill="#fff" stroke="#222" stroke-width="0.75"/>
<line x1="79.6" y1="462.6" x2="79.6" y2="463.6" stroke="#222" stroke-width="0.8"/>
<line x1="77.6" y1="462.6" x2="81.6" y2="462.6" stroke="#222" stroke-width="0.8"/>
<line x1="77.6" y1="463.6" x2="81.6" y2="463.6" stroke="#222" stroke-width="0.8"/>
<circle cx="90.4" cy="455.6" r="1.8" fill="#fff" stroke="#222" stroke-width="0.75"/>
<circle cx="92.7" cy="454.6" r="1.8" fill="#fff" stroke="#222" stroke-width="0.75"/>
<circle cx="95.0" cy="454.9" r="1.8" fill="#fff" stroke="#222" stroke-width="0.75"/>
<line x1="92.7" y1="454.6" x2="92.7" y2="455.6" stroke="#222" stroke-width="0.8"/>
<line x1="90.7" y1="454.6" x2="94.7" y2="454.6" stroke="#222" stroke-width="0.8"/>
<line x1="90.7" y1="455.6" x2="94.7" y2="455.6" stroke="#222" stroke-width="0.8"/>
<circle cx="103.8" cy="455.6" r="1.8" fill="#fff" stroke="#222" stroke-width="0.75"/>
<circle cx="106.1" cy="454.4" r="1.8" fill="#fff" stroke="#222" stroke-width="0.75"/>
<circle cx="108.4" cy="455.1" r="1.8" fill="#fff" stroke="#222" stroke-width="0.75"/>
<line x1="106.1" y1="454.35" x2="106.1" y2="455.6" stroke="#222" stroke-width="0.8"/>
<line x1="104.1" y1="454.35" x2="108.1" y2="454.35" stroke="#222" stroke-width="0.8"/>
<line x1="104.1" y1="455.6" x2="108.1" y2="455.6" stroke="#222" stroke-width="0.8"/>
<circle cx="123.2" cy="419.4" r="1.8" fill="#fff" stroke="#222" stroke-width="0.75"/>
<circle cx="125.5" cy="415.1" r="1.8" fill="#fff" stroke="#222" stroke-width="0.75"/>
<circle cx="127.8" cy="418.1" r="1.8" fill="#fff" stroke="#222" stroke-width="0.75"/>
<line x1="125.5" y1="415.1" x2="125.5" y2="419.35" stroke="#222" stroke-width="0.8"/>
<line x1="123.5" y1="415.1" x2="127.5" y2="415.1" stroke="#222" stroke-width="0.8"/>
<line x1="123.5" y1="419.35" x2="127.5" y2="419.35" stroke="#222" stroke-width="0.8"/>
<circle cx="136.3" cy="377.1" r="1.8" fill="#fff" stroke="#222" stroke-width="0.75"/>
<circle cx="138.6" cy="379.9" r="1.8" fill="#fff" stroke="#222" stroke-width="0.75"/>
<circle cx="140.9" cy="381.6" r="1.8" fill="#fff" stroke="#222" stroke-width="0.75"/>
<line x1="138.6" y1="377.1" x2="138.6" y2="381.6" stroke="#222" stroke-width="0.8"/>
<line x1="136.6" y1="377.1" x2="140.6" y2="377.1" stroke="#222" stroke-width="0.8"/>
<line x1="136.6" y1="381.6" x2="140.6" y2="381.6" stroke="#222" stroke-width="0.8"/>
<circle cx="148.8" cy="422.1" r="1.8" fill="#fff" stroke="#222" stroke-width="0.75"/>
<circle cx="151.1" cy="413.6" r="1.8" fill="#fff" stroke="#222" stroke-width="0.75"/>
<circle cx="153.4" cy="420.6" r="1.8" fill="#fff" stroke="#222" stroke-width="0.75"/>
<line x1="151.1" y1="413.6" x2="151.1" y2="422.1" stroke="#222" stroke-width="0.8"/>
<line x1="149.1" y1="413.6" x2="153.1" y2="413.6" stroke="#222" stroke-width="0.8"/>
<line x1="149.1" y1="422.1" x2="153.1" y2="422.1" stroke="#222" stroke-width="0.8"/>
<circle cx="165.1" cy="383.1" r="1.8" fill="#fff" stroke="#222" stroke-width="0.75"/>
<circle cx="165.1" cy="379.9" r="1.8" fill="#fff" stroke="#222" stroke-width="0.75"/>
<circle cx="165.1" cy="376.1" r="1.8" fill="#fff" stroke="#222" stroke-width="0.75"/>
<line x1="165.1" y1="376.1" x2="165.1" y2="383.1" stroke="#222" stroke-width="0.8"/>
<line x1="163.1" y1="376.1" x2="167.1" y2="376.1" stroke="#222" stroke-width="0.8"/>
<line x1="163.1" y1="383.1" x2="167.1" y2="383.1" stroke="#222" stroke-width="0.8"/>
<circle cx="177.9" cy="386.6" r="1.8" fill="#fff" stroke="#222" stroke-width="0.75"/>
<circle cx="177.9" cy="381.6" r="1.8" fill="#fff" stroke="#222" stroke-width="0.75"/>
<circle cx="177.9" cy="376.1" r="1.8" fill="#fff" stroke="#222" stroke-width="0.75"/>
<line x1="177.9" y1="376.1" x2="177.9" y2="386.6" stroke="#222" stroke-width="0.8"/>
<line x1="175.9" y1="376.1" x2="179.9" y2="376.1" stroke="#222" stroke-width="0.8"/>
<line x1="175.9" y1="386.6" x2="179.9" y2="386.6" stroke="#222" stroke-width="0.8"/>
<text x="38.0" y="478.8" text-anchor="end" fill="#000">sgUSP29</text>
<text x="52.7" y="478.8" text-anchor="middle" fill="#000">Ctrl</text>
<text x="66.0" y="478.8" text-anchor="middle" fill="#000">#2</text>
<text x="79.4" y="478.8" text-anchor="middle" fill="#000">#2</text>
<text x="92.7" y="478.8" text-anchor="middle" fill="#000">#2</text>
<text x="106.0" y="478.8" text-anchor="middle" fill="#000">#2</text>
<text x="124.0" y="478.8" text-anchor="middle" fill="#000">Ctrl</text>
<text x="137.2" y="478.8" text-anchor="middle" fill="#000">#2</text>
<text x="151.3" y="478.8" text-anchor="middle" fill="#000">#2</text>
<text x="164.9" y="478.8" text-anchor="middle" fill="#000">#2</text>
<text x="178.0" y="478.8" text-anchor="middle" fill="#000">#2</text>
<text x="38.0" y="491.8" text-anchor="end" fill="#000">FSP1</text>
<text transform="translate(56.8,487.5) rotate(-45)" text-anchor="end">EV</text>
<text transform="translate(69.2,487.4) rotate(-45)" text-anchor="end">EV</text>
<text transform="translate(82.6,487.2) rotate(-45)" text-anchor="end">WT</text>
<text transform="translate(95.8,485.7) rotate(-45)" text-anchor="end">G2A</text>
<text transform="translate(110.9,484.6) rotate(-45)" text-anchor="end">E156A</text>
<text transform="translate(128.0,487.5) rotate(-45)" text-anchor="end">EV</text>
<text transform="translate(141.1,487.4) rotate(-45)" text-anchor="end">EV</text>
<text transform="translate(154.1,487.2) rotate(-45)" text-anchor="end">WT</text>
<text transform="translate(168.2,485.7) rotate(-45)" text-anchor="end">G2A</text>
<text transform="translate(182.7,484.6) rotate(-45)" text-anchor="end">E156A</text>
<line x1="54.0" y1="449.5" x2="65.9" y2="449.5" stroke="#222" stroke-width="1"/>
<text x="66.8" y="446.8" text-anchor="middle" fill="#000"><tspan font-style="italic">P</tspan> &lt; 0.0001</text>
<line x1="68.0" y1="449.5" x2="106.8" y2="449.5" stroke="#222" stroke-width="1"/>
<text x="99.2" y="446.8" text-anchor="middle" fill="#000">NS</text>
<line x1="68.0" y1="435.5" x2="80.3" y2="435.5" stroke="#222" stroke-width="1"/>
<text x="73.8" y="431.9" text-anchor="middle" fill="#000"><tspan font-style="italic">P</tspan> &lt; 0.0001</text>
<line x1="68.0" y1="420.5" x2="93.6" y2="420.5" stroke="#222" stroke-width="1"/>
<text x="80.8" y="417.8" text-anchor="middle" fill="#000">NS</text>
<line x1="125.0" y1="370.5" x2="136.8" y2="370.5" stroke="#222" stroke-width="1"/>
<text x="131.1" y="367.2" text-anchor="middle" fill="#000"><tspan font-style="italic">P</tspan> &lt; 0.0001</text>
<line x1="139.0" y1="370.5" x2="178.1" y2="370.5" stroke="#222" stroke-width="1"/>
<text x="167.8" y="367.2" text-anchor="middle" fill="#000">NS</text>
<line x1="139.0" y1="355.5" x2="151.2" y2="355.5" stroke="#222" stroke-width="1"/>
<text x="145.1" y="352.5" text-anchor="middle" fill="#000"><tspan font-style="italic">P</tspan> &lt; 0.0001</text>
<line x1="139.0" y1="341.5" x2="165.0" y2="341.5" stroke="#222" stroke-width="1"/>
<text x="151.9" y="338.0" text-anchor="middle" fill="#000">NS</text>
<rect x="54.0" y="366.8" width="8.8" height="6.2" fill="#a8cff3" stroke="none" stroke-width="1"/>
<text x="66.6" y="373.0" fill="#000">Control</text>
<rect x="54.0" y="381.2" width="8.8" height="6.2" fill="#efc590" stroke="none" stroke-width="1"/>
<text x="66.6" y="387.5" fill="#000">Cisplatin</text>
<text x="202.0" y="360.8" font-size="11.8" font-weight="bold" fill="#000" style="stroke:none;text-rendering:geometricPrecision">i</text>
<line x1="236.5" y1="365.0" x2="236.5" y2="466.2" stroke="#7a7a7a" stroke-width="1"/>
<line x1="234.0" y1="465.5" x2="236.5" y2="465.5" stroke="#555" stroke-width="1"/>
<text x="229.3" y="468.7" text-anchor="end" fill="#000">0.0</text>
<line x1="234.0" y1="449.5" x2="236.5" y2="449.5" stroke="#555" stroke-width="1"/>
<text x="229.3" y="452.0" text-anchor="end" fill="#000">0.2</text>
<line x1="234.0" y1="432.5" x2="236.5" y2="432.5" stroke="#555" stroke-width="1"/>
<text x="229.3" y="435.3" text-anchor="end" fill="#000">0.4</text>
<line x1="234.0" y1="415.5" x2="236.5" y2="415.5" stroke="#555" stroke-width="1"/>
<text x="229.3" y="418.59999999999997" text-anchor="end" fill="#000">0.6</text>
<line x1="234.0" y1="398.5" x2="236.5" y2="398.5" stroke="#555" stroke-width="1"/>
<text x="229.3" y="401.9" text-anchor="end" fill="#000">0.8</text>
<line x1="234.0" y1="382.5" x2="236.5" y2="382.5" stroke="#555" stroke-width="1"/>
<text x="229.3" y="385.2" text-anchor="end" fill="#000">1.0</text>
<line x1="234.0" y1="365.5" x2="236.5" y2="365.5" stroke="#555" stroke-width="1"/>
<text x="229.3" y="368.5" text-anchor="end" fill="#000">1.2</text>
<line x1="233.5" y1="465.5" x2="336.8" y2="465.5" stroke="#7a7a7a" stroke-width="1"/>
<line x1="248.5" y1="465.5" x2="248.5" y2="468.0" stroke="#555" stroke-width="1"/>
<line x1="273.5" y1="465.5" x2="273.5" y2="468.0" stroke="#555" stroke-width="1"/>
<line x1="298.5" y1="465.5" x2="298.5" y2="468.0" stroke="#555" stroke-width="1"/>
<line x1="323.5" y1="465.5" x2="323.5" y2="468.0" stroke="#555" stroke-width="1"/>
<text x="248.6" y="480.1" text-anchor="middle" fill="#000">0</text>
<text x="273.5" y="480.1" text-anchor="middle" fill="#000">0.5</text>
<text x="298.8" y="480.1" text-anchor="middle" fill="#000">1</text>
<text x="323.8" y="480.1" text-anchor="middle" fill="#000">2</text>
<text x="287.5" y="492.3" text-anchor="middle" fill="#000">Cisplatin (μM)</text>
<text transform="translate(206.1,416.4) rotate(-90)" text-anchor="middle" fill="#000">Survival fraction</text>
<polyline points="248.6,382.2 273.5,398.9 298.8,414.2 323.8,443.2" fill="none" stroke="#5fd08a" stroke-width="1.1"/>
<path d="M248.6,384.6 L251.0,380.2 L246.2,380.2Z" fill="#5fd08a"/>
<line x1="273.5" y1="394.72499999999997" x2="273.5" y2="403.075" stroke="#5fd08a" stroke-width="0.9"/>
<line x1="271.3" y1="394.72499999999997" x2="275.7" y2="394.72499999999997" stroke="#5fd08a" stroke-width="0.9"/>
<line x1="271.3" y1="403.075" x2="275.7" y2="403.075" stroke="#5fd08a" stroke-width="0.9"/>
<path d="M273.5,401.3 L275.9,396.9 L271.1,396.9Z" fill="#5fd08a"/>
<line x1="298.8" y1="410.8405" x2="298.8" y2="417.52049999999997" stroke="#5fd08a" stroke-width="0.9"/>
<line x1="296.6" y1="410.8405" x2="301.0" y2="410.8405" stroke="#5fd08a" stroke-width="0.9"/>
<line x1="296.6" y1="417.52049999999997" x2="301.0" y2="417.52049999999997" stroke="#5fd08a" stroke-width="0.9"/>
<path d="M298.8,416.6 L301.2,412.2 L296.4,412.2Z" fill="#5fd08a"/>
<line x1="323.8" y1="439.815" x2="323.8" y2="446.49499999999995" stroke="#5fd08a" stroke-width="0.9"/>
<line x1="321.6" y1="439.815" x2="326.0" y2="439.815" stroke="#5fd08a" stroke-width="0.9"/>
<line x1="321.6" y1="446.49499999999995" x2="326.0" y2="446.49499999999995" stroke="#5fd08a" stroke-width="0.9"/>
<path d="M323.8,445.6 L326.2,441.2 L321.4,441.2Z" fill="#5fd08a"/>
<polyline points="248.6,382.2 273.5,397.9 298.8,411.8 323.8,436.9" fill="none" stroke="#f0302a" stroke-width="1.2"/>
<path d="M248.6,379.6 L251.2,382.2 L248.6,384.8 L246.0,382.2Z" fill="#f0302a"/>
<path d="M273.5,395.3 L276.1,397.9 L273.5,400.5 L270.9,397.9Z" fill="#f0302a"/>
<path d="M298.8,409.2 L301.4,411.8 L298.8,414.5 L296.2,411.8Z" fill="#f0302a"/>
<line x1="323.8" y1="434.3875" x2="323.8" y2="439.3975" stroke="#f0302a" stroke-width="0.9"/>
<line x1="321.6" y1="434.3875" x2="326.0" y2="434.3875" stroke="#f0302a" stroke-width="0.9"/>
<line x1="321.6" y1="439.3975" x2="326.0" y2="439.3975" stroke="#f0302a" stroke-width="0.9"/>
<path d="M323.8,434.3 L326.4,436.9 L323.8,439.5 L321.2,436.9Z" fill="#f0302a"/>
<polyline points="248.6,382.2 273.5,400.2 298.8,413.8 323.8,441.5" fill="none" stroke="#efc182" stroke-width="1.1"/>
<rect x="246.4" y="380.0" width="4.4" height="4.4" fill="#efc182"/>
<line x1="273.5" y1="394.30749999999995" x2="273.5" y2="405.9975" stroke="#efc182" stroke-width="0.9"/>
<line x1="271.3" y1="394.30749999999995" x2="275.7" y2="394.30749999999995" stroke="#efc182" stroke-width="0.9"/>
<line x1="271.3" y1="405.9975" x2="275.7" y2="405.9975" stroke="#efc182" stroke-width="0.9"/>
<rect x="271.3" y="398.0" width="4.4" height="4.4" fill="#efc182"/>
<line x1="298.8" y1="410.423" x2="298.8" y2="417.10299999999995" stroke="#efc182" stroke-width="0.9"/>
<line x1="296.6" y1="410.423" x2="301.0" y2="410.423" stroke="#efc182" stroke-width="0.9"/>
<line x1="296.6" y1="417.10299999999995" x2="301.0" y2="417.10299999999995" stroke="#efc182" stroke-width="0.9"/>
<rect x="296.6" y="411.6" width="4.4" height="4.4" fill="#efc182"/>
<line x1="323.8" y1="436.475" x2="323.8" y2="446.495" stroke="#efc182" stroke-width="0.9"/>
<line x1="321.6" y1="436.475" x2="326.0" y2="436.475" stroke="#efc182" stroke-width="0.9"/>
<line x1="321.6" y1="446.495" x2="326.0" y2="446.495" stroke="#efc182" stroke-width="0.9"/>
<rect x="321.6" y="439.3" width="4.4" height="4.4" fill="#efc182"/>
<polyline points="248.6,382.2 273.5,386.9 298.8,396.0 323.8,409.5" fill="none" stroke="#ea7d7d" stroke-width="1.1"/>
<path d="M248.6,379.8 L251.0,384.2 L246.2,384.2Z" fill="#ea7d7d"/>
<line x1="273.5" y1="385.20599999999996" x2="273.5" y2="388.546" stroke="#ea7d7d" stroke-width="0.9"/>
<line x1="271.3" y1="385.20599999999996" x2="275.7" y2="385.20599999999996" stroke="#ea7d7d" stroke-width="0.9"/>
<line x1="271.3" y1="388.546" x2="275.7" y2="388.546" stroke="#ea7d7d" stroke-width="0.9"/>
<path d="M273.5,384.5 L275.9,388.9 L271.1,388.9Z" fill="#ea7d7d"/>
<line x1="298.8" y1="391.80249999999995" x2="298.8" y2="400.1525" stroke="#ea7d7d" stroke-width="0.9"/>
<line x1="296.6" y1="391.80249999999995" x2="301.0" y2="391.80249999999995" stroke="#ea7d7d" stroke-width="0.9"/>
<line x1="296.6" y1="400.1525" x2="301.0" y2="400.1525" stroke="#ea7d7d" stroke-width="0.9"/>
<path d="M298.8,393.6 L301.2,398.0 L296.4,398.0Z" fill="#ea7d7d"/>
<line x1="323.8" y1="406.9995" x2="323.8" y2="412.0095" stroke="#ea7d7d" stroke-width="0.9"/>
<line x1="321.6" y1="406.9995" x2="326.0" y2="406.9995" stroke="#ea7d7d" stroke-width="0.9"/>
<line x1="321.6" y1="412.0095" x2="326.0" y2="412.0095" stroke="#ea7d7d" stroke-width="0.9"/>
<path d="M323.8,407.1 L326.2,411.5 L321.4,411.5Z" fill="#ea7d7d"/>
<polyline points="248.6,382.2 273.5,382.6 298.8,392.9 323.8,406.6" fill="none" stroke="#8fc0f0" stroke-width="1.1"/>
<circle cx="248.6" cy="382.2" r="2.2" fill="#8fc0f0"/>
<line x1="273.5" y1="378.4425" x2="273.5" y2="386.7925" stroke="#8fc0f0" stroke-width="0.9"/>
<line x1="271.3" y1="378.4425" x2="275.7" y2="378.4425" stroke="#8fc0f0" stroke-width="0.9"/>
<line x1="271.3" y1="386.7925" x2="275.7" y2="386.7925" stroke="#8fc0f0" stroke-width="0.9"/>
<circle cx="273.5" cy="382.6" r="2.2" fill="#8fc0f0"/>
<line x1="298.8" y1="389.548" x2="298.8" y2="396.22799999999995" stroke="#8fc0f0" stroke-width="0.9"/>
<line x1="296.6" y1="389.548" x2="301.0" y2="389.548" stroke="#8fc0f0" stroke-width="0.9"/>
<line x1="296.6" y1="396.22799999999995" x2="301.0" y2="396.22799999999995" stroke="#8fc0f0" stroke-width="0.9"/>
<circle cx="298.8" cy="392.9" r="2.2" fill="#8fc0f0"/>
<line x1="323.8" y1="402.407" x2="323.8" y2="410.757" stroke="#8fc0f0" stroke-width="0.9"/>
<line x1="321.6" y1="402.407" x2="326.0" y2="402.407" stroke="#8fc0f0" stroke-width="0.9"/>
<line x1="321.6" y1="410.757" x2="326.0" y2="410.757" stroke="#8fc0f0" stroke-width="0.9"/>
<circle cx="323.8" cy="406.6" r="2.2" fill="#8fc0f0"/>
<line x1="329.7" y1="366.7" x2="342.7" y2="366.7" stroke="#8fc0f0" stroke-width="1.1"/>
<circle cx="336.2" cy="366.7" r="2.0" fill="#8fc0f0"/>
<text x="347.0" y="369.7" fill="#000">sgCtrl</text>
<line x1="329.7" y1="379.0" x2="342.7" y2="379.0" stroke="#efc182" stroke-width="1.1"/>
<rect x="334.2" y="377.0" width="4.0" height="4.0" fill="#efc182"/>
<text x="347.0" y="382.0" fill="#000">sgUSP29 #2</text>
<line x1="329.7" y1="391.2" x2="342.7" y2="391.2" stroke="#ea7d7d" stroke-width="1.1"/>
<path d="M336.2,389.0 L338.4,393.0 L334.0,393.0Z" fill="#ea7d7d"/>
<text x="347.0" y="394.2" fill="#000">sgUSP29 #2</text>
<text x="347.0" y="404.09999999999997" fill="#000">+ FSP1 WT</text>
<line x1="329.7" y1="416.2" x2="342.7" y2="416.2" stroke="#5fd08a" stroke-width="1.1"/>
<path d="M336.2,418.4 L338.4,414.4 L334.0,414.4Z" fill="#5fd08a"/>
<text x="347.0" y="419.2" fill="#000">sgUSP29 #2</text>
<text x="347.0" y="429.0" fill="#000">+ FSP1 G2A</text>
<line x1="329.7" y1="440.4" x2="342.7" y2="440.4" stroke="#f0302a" stroke-width="1.1"/>
<path d="M336.2,438.0 L338.6,440.4 L336.2,442.8 L333.8,440.4Z" fill="#f0302a"/>
<text x="347.0" y="443.4" fill="#000">shUSP29 #2</text>
<text x="347.0" y="453.2" fill="#000">+ FSP1 E156A</text>
<line x1="398.5" y1="366.6" x2="398.5" y2="376.8" stroke="#333" stroke-width="1"/>
<text transform="translate(407.3,372.2) rotate(-90)" text-anchor="middle" fill="#000"><tspan font-style="italic">P</tspan> &lt; 0.0001</text>
<line x1="410.5" y1="379.4" x2="410.5" y2="391.4" stroke="#333" stroke-width="1"/>
<text transform="translate(419.4,385.9) rotate(-90)" text-anchor="middle" fill="#000"><tspan font-style="italic">P</tspan> &lt; 0.0001</text>
<line x1="422.5" y1="379.4" x2="422.5" y2="443.6" stroke="#333" stroke-width="1"/>
<text transform="translate(431.4,430.4) rotate(-90)" text-anchor="middle" fill="#000">NS</text>
<line x1="425.5" y1="379.4" x2="425.5" y2="418.8" stroke="#333" stroke-width="1"/>
<text transform="translate(435.8,399.0) rotate(-90)" text-anchor="middle" fill="#000">NS</text>
<text x="442.6" y="360.8" font-size="11.8" font-weight="bold" fill="#000" style="stroke:none;text-rendering:geometricPrecision">j</text>
<line x1="481.5" y1="365.0" x2="481.5" y2="466.3" stroke="#7a7a7a" stroke-width="1"/>
<line x1="479.0" y1="465.5" x2="481.5" y2="465.5" stroke="#555" stroke-width="1"/>
<text x="474.7" y="468.8" text-anchor="end" fill="#000">0.0</text>
<line x1="479.0" y1="449.5" x2="481.5" y2="449.5" stroke="#555" stroke-width="1"/>
<text x="474.7" y="452.08000000000004" text-anchor="end" fill="#000">0.2</text>
<line x1="479.0" y1="432.5" x2="481.5" y2="432.5" stroke="#555" stroke-width="1"/>
<text x="474.7" y="435.36" text-anchor="end" fill="#000">0.4</text>
<line x1="479.0" y1="415.5" x2="481.5" y2="415.5" stroke="#555" stroke-width="1"/>
<text x="474.7" y="418.64" text-anchor="end" fill="#000">0.6</text>
<line x1="479.0" y1="398.5" x2="481.5" y2="398.5" stroke="#555" stroke-width="1"/>
<text x="474.7" y="401.92" text-anchor="end" fill="#000">0.8</text>
<line x1="479.0" y1="382.5" x2="481.5" y2="382.5" stroke="#555" stroke-width="1"/>
<text x="474.7" y="385.20000000000005" text-anchor="end" fill="#000">1.0</text>
<line x1="479.0" y1="365.5" x2="481.5" y2="365.5" stroke="#555" stroke-width="1"/>
<text x="474.7" y="368.48" text-anchor="end" fill="#000">1.2</text>
<line x1="478.5" y1="465.5" x2="582.0" y2="465.5" stroke="#7a7a7a" stroke-width="1"/>
<line x1="494.5" y1="465.5" x2="494.5" y2="468.0" stroke="#555" stroke-width="1"/>
<line x1="519.5" y1="465.5" x2="519.5" y2="468.0" stroke="#555" stroke-width="1"/>
<line x1="544.5" y1="465.5" x2="544.5" y2="468.0" stroke="#555" stroke-width="1"/>
<line x1="569.5" y1="465.5" x2="569.5" y2="468.0" stroke="#555" stroke-width="1"/>
<text x="494.0" y="480.6" text-anchor="middle" fill="#000">0</text>
<text x="519.6" y="480.6" text-anchor="middle" fill="#000">0.5</text>
<text x="544.4" y="480.6" text-anchor="middle" fill="#000">1</text>
<text x="569.6" y="480.6" text-anchor="middle" fill="#000">2</text>
<text x="533.3" y="493.0" text-anchor="middle" fill="#000">Cisplatin (μM)</text>
<text transform="translate(451.5,416.4) rotate(-90)" text-anchor="middle" fill="#000">Survival fraction</text>
<polyline points="494.0,382.2 519.6,399.8 544.4,420.8 569.6,441.8" fill="none" stroke="#efc182" stroke-width="0.9"/>
<rect x="492.3" y="380.5" width="3.4" height="3.4" fill="#efc182"/>
<line x1="519.6" y1="396.41200000000003" x2="519.6" y2="403.1" stroke="#efc182" stroke-width="0.8"/>
<line x1="517.0" y1="396.41200000000003" x2="522.2" y2="396.41200000000003" stroke="#efc182" stroke-width="0.8"/>
<line x1="517.0" y1="403.1" x2="522.2" y2="403.1" stroke="#efc182" stroke-width="0.8"/>
<rect x="517.9" y="398.1" width="3.4" height="3.4" fill="#efc182"/>
<line x1="544.4" y1="418.31520000000006" x2="544.4" y2="423.3312" stroke="#efc182" stroke-width="0.8"/>
<line x1="541.8" y1="418.31520000000006" x2="547.0" y2="418.31520000000006" stroke="#efc182" stroke-width="0.8"/>
<line x1="541.8" y1="423.3312" x2="547.0" y2="423.3312" stroke="#efc182" stroke-width="0.8"/>
<rect x="542.7" y="419.1" width="3.4" height="3.4" fill="#efc182"/>
<line x1="569.6" y1="438.8808" x2="569.6" y2="444.7328" stroke="#efc182" stroke-width="0.8"/>
<line x1="567.0" y1="438.8808" x2="572.2" y2="438.8808" stroke="#efc182" stroke-width="0.8"/>
<line x1="567.0" y1="444.7328" x2="572.2" y2="444.7328" stroke="#efc182" stroke-width="0.8"/>
<rect x="567.9" y="440.1" width="3.4" height="3.4" fill="#efc182"/>
<polyline points="494.0,382.2 519.6,400.6 544.4,413.4 569.6,438.2" fill="none" stroke="#f0302a" stroke-width="0.9"/>
<path d="M494.0,380.3 L495.9,382.2 L494.0,384.1 L492.1,382.2Z" fill="#f0302a"/>
<line x1="519.6" y1="396.412" x2="519.6" y2="404.772" stroke="#f0302a" stroke-width="0.8"/>
<line x1="517.0" y1="396.412" x2="522.2" y2="396.412" stroke="#f0302a" stroke-width="0.8"/>
<line x1="517.0" y1="404.772" x2="522.2" y2="404.772" stroke="#f0302a" stroke-width="0.8"/>
<path d="M519.6,398.7 L521.5,400.6 L519.6,402.5 L517.7,400.6Z" fill="#f0302a"/>
<line x1="544.4" y1="410.87480000000005" x2="544.4" y2="415.8908" stroke="#f0302a" stroke-width="0.8"/>
<line x1="541.8" y1="410.87480000000005" x2="547.0" y2="410.87480000000005" stroke="#f0302a" stroke-width="0.8"/>
<line x1="541.8" y1="415.8908" x2="547.0" y2="415.8908" stroke="#f0302a" stroke-width="0.8"/>
<path d="M544.4,411.5 L546.3,413.4 L544.4,415.3 L542.5,413.4Z" fill="#f0302a"/>
<line x1="569.6" y1="429.43399999999997" x2="569.6" y2="446.99" stroke="#f0302a" stroke-width="0.8"/>
<line x1="567.0" y1="429.43399999999997" x2="572.2" y2="429.43399999999997" stroke="#f0302a" stroke-width="0.8"/>
<line x1="567.0" y1="446.99" x2="572.2" y2="446.99" stroke="#f0302a" stroke-width="0.8"/>
<path d="M569.6,436.3 L571.5,438.2 L569.6,440.1 L567.7,438.2Z" fill="#f0302a"/>
<polyline points="494.0,382.2 519.6,396.8 544.4,412.3 569.6,435.7" fill="none" stroke="#5fd08a" stroke-width="0.9"/>
<path d="M494.0,384.0 L495.8,380.8 L492.2,380.8Z" fill="#5fd08a"/>
<line x1="519.6" y1="393.48600000000005" x2="519.6" y2="400.17400000000004" stroke="#5fd08a" stroke-width="0.8"/>
<line x1="517.0" y1="393.48600000000005" x2="522.2" y2="393.48600000000005" stroke="#5fd08a" stroke-width="0.8"/>
<line x1="517.0" y1="400.17400000000004" x2="522.2" y2="400.17400000000004" stroke="#5fd08a" stroke-width="0.8"/>
<path d="M519.6,398.6 L521.4,395.4 L517.8,395.4Z" fill="#5fd08a"/>
<line x1="544.4" y1="408.952" x2="544.4" y2="415.64" stroke="#5fd08a" stroke-width="0.8"/>
<line x1="541.8" y1="408.952" x2="547.0" y2="408.952" stroke="#5fd08a" stroke-width="0.8"/>
<line x1="541.8" y1="415.64" x2="547.0" y2="415.64" stroke="#5fd08a" stroke-width="0.8"/>
<path d="M544.4,414.1 L546.2,410.9 L542.6,410.9Z" fill="#5fd08a"/>
<line x1="569.6" y1="433.196" x2="569.6" y2="438.212" stroke="#5fd08a" stroke-width="0.8"/>
<line x1="567.0" y1="433.196" x2="572.2" y2="433.196" stroke="#5fd08a" stroke-width="0.8"/>
<line x1="567.0" y1="438.212" x2="572.2" y2="438.212" stroke="#5fd08a" stroke-width="0.8"/>
<path d="M569.6,437.5 L571.4,434.3 L567.8,434.3Z" fill="#5fd08a"/>
<polyline points="494.0,382.2 519.6,398.9 544.4,414.0 569.6,432.8" fill="none" stroke="#f060f0" stroke-width="0.8"/>
<path d="M494.0,380.4 L495.8,382.2 L494.0,384.0 L492.2,382.2Z" fill="#f060f0"/>
<line x1="519.6" y1="396.41200000000003" x2="519.6" y2="401.428" stroke="#f060f0" stroke-width="0.8"/>
<line x1="517.0" y1="396.41200000000003" x2="522.2" y2="396.41200000000003" stroke="#f060f0" stroke-width="0.8"/>
<line x1="517.0" y1="401.428" x2="522.2" y2="401.428" stroke="#f060f0" stroke-width="0.8"/>
<path d="M519.6,397.1 L521.4,398.9 L519.6,400.7 L517.8,398.9Z" fill="#f060f0"/>
<line x1="544.4" y1="411.46000000000004" x2="544.4" y2="416.476" stroke="#f060f0" stroke-width="0.8"/>
<line x1="541.8" y1="411.46000000000004" x2="547.0" y2="411.46000000000004" stroke="#f060f0" stroke-width="0.8"/>
<line x1="541.8" y1="416.476" x2="547.0" y2="416.476" stroke="#f060f0" stroke-width="0.8"/>
<path d="M544.4,412.2 L546.2,414.0 L544.4,415.8 L542.6,414.0Z" fill="#f060f0"/>
<line x1="569.6" y1="431.106" x2="569.6" y2="434.45000000000005" stroke="#f060f0" stroke-width="0.8"/>
<line x1="567.0" y1="431.106" x2="572.2" y2="431.106" stroke="#f060f0" stroke-width="0.8"/>
<line x1="567.0" y1="434.45000000000005" x2="572.2" y2="434.45000000000005" stroke="#f060f0" stroke-width="0.8"/>
<path d="M569.6,431.0 L571.4,432.8 L569.6,434.6 L567.8,432.8Z" fill="#f060f0"/>
<polyline points="494.0,382.2 519.6,386.8 544.4,399.8 569.6,412.8" fill="none" stroke="#ea7d7d" stroke-width="0.9"/>
<path d="M494.0,380.3 L495.9,383.7 L492.1,383.7Z" fill="#ea7d7d"/>
<line x1="519.6" y1="384.29" x2="519.6" y2="389.306" stroke="#ea7d7d" stroke-width="0.8"/>
<line x1="517.0" y1="384.29" x2="522.2" y2="384.29" stroke="#ea7d7d" stroke-width="0.8"/>
<line x1="517.0" y1="389.306" x2="522.2" y2="389.306" stroke="#ea7d7d" stroke-width="0.8"/>
<path d="M519.6,384.9 L521.5,388.3 L517.7,388.3Z" fill="#ea7d7d"/>
<line x1="544.4" y1="395.576" x2="544.4" y2="403.93600000000004" stroke="#ea7d7d" stroke-width="0.8"/>
<line x1="541.8" y1="395.576" x2="547.0" y2="395.576" stroke="#ea7d7d" stroke-width="0.8"/>
<line x1="541.8" y1="403.93600000000004" x2="547.0" y2="403.93600000000004" stroke="#ea7d7d" stroke-width="0.8"/>
<path d="M544.4,397.9 L546.3,401.3 L542.5,401.3Z" fill="#ea7d7d"/>
<line x1="569.6" y1="406.9456" x2="569.6" y2="418.64959999999996" stroke="#ea7d7d" stroke-width="0.8"/>
<line x1="567.0" y1="406.9456" x2="572.2" y2="406.9456" stroke="#ea7d7d" stroke-width="0.8"/>
<line x1="567.0" y1="418.64959999999996" x2="572.2" y2="418.64959999999996" stroke="#ea7d7d" stroke-width="0.8"/>
<path d="M569.6,410.9 L571.5,414.3 L567.7,414.3Z" fill="#ea7d7d"/>
<polyline points="494.0,382.2 519.6,383.9 544.4,392.8 569.6,405.8" fill="none" stroke="#8fc0f0" stroke-width="0.9"/>
<circle cx="494.0" cy="382.2" r="1.8" fill="#8fc0f0"/>
<line x1="519.6" y1="380.11" x2="519.6" y2="387.634" stroke="#8fc0f0" stroke-width="0.8"/>
<line x1="517.0" y1="380.11" x2="522.2" y2="380.11" stroke="#8fc0f0" stroke-width="0.8"/>
<line x1="517.0" y1="387.634" x2="522.2" y2="387.634" stroke="#8fc0f0" stroke-width="0.8"/>
<circle cx="519.6" cy="383.9" r="1.8" fill="#8fc0f0"/>
<line x1="544.4" y1="390.30920000000003" x2="544.4" y2="395.3252" stroke="#8fc0f0" stroke-width="0.8"/>
<line x1="541.8" y1="390.30920000000003" x2="547.0" y2="390.30920000000003" stroke="#8fc0f0" stroke-width="0.8"/>
<line x1="541.8" y1="395.3252" x2="547.0" y2="395.3252" stroke="#8fc0f0" stroke-width="0.8"/>
<circle cx="544.4" cy="392.8" r="1.8" fill="#8fc0f0"/>
<line x1="569.6" y1="403.68520000000007" x2="569.6" y2="407.8652" stroke="#8fc0f0" stroke-width="0.8"/>
<line x1="567.0" y1="403.68520000000007" x2="572.2" y2="403.68520000000007" stroke="#8fc0f0" stroke-width="0.8"/>
<line x1="567.0" y1="407.8652" x2="572.2" y2="407.8652" stroke="#8fc0f0" stroke-width="0.8"/>
<circle cx="569.6" cy="405.8" r="1.8" fill="#8fc0f0"/>
<line x1="577.8" y1="358.9" x2="590.8" y2="358.9" stroke="#8fc0f0" stroke-width="1.1"/>
<circle cx="584.3" cy="358.9" r="2.0" fill="#8fc0f0"/>
<text x="595.4" y="361.9" fill="#000">sgCtrl</text>
<line x1="577.8" y1="371.4" x2="590.8" y2="371.4" stroke="#efc182" stroke-width="1.1"/>
<rect x="582.3" y="369.4" width="4.0" height="4.0" fill="#efc182"/>
<text x="595.4" y="374.4" fill="#000">sgUSP29 #2</text>
<line x1="577.8" y1="384.0" x2="590.8" y2="384.0" stroke="#ea7d7d" stroke-width="1.1"/>
<path d="M584.3,381.8 L586.5,385.8 L582.1,385.8Z" fill="#ea7d7d"/>
<text x="595.4" y="387.0" fill="#000">sgUSP29 #2</text>
<text x="595.4" y="397.2" fill="#000">+ Lip-1</text>
<line x1="577.8" y1="408.5" x2="590.8" y2="408.5" stroke="#5fd08a" stroke-width="1.1"/>
<path d="M584.3,410.7 L586.5,406.7 L582.1,406.7Z" fill="#5fd08a"/>
<text x="595.4" y="411.5" fill="#000">sgUSP29 #2</text>
<text x="595.4" y="421.7" fill="#000">+ Z-VAD</text>
<line x1="577.8" y1="432.8" x2="590.8" y2="432.8" stroke="#f0302a" stroke-width="1.1"/>
<path d="M584.3,430.4 L586.7,432.8 L584.3,435.2 L581.9,432.8Z" fill="#f0302a"/>
<text x="595.4" y="435.8" fill="#000">sgUSP29 #2</text>
<text x="595.4" y="446.0" fill="#000">+ 3-MA</text>
<line x1="577.8" y1="457.3" x2="590.8" y2="457.3" stroke="#f060f0" stroke-width="1.1"/>
<path d="M584.3,454.9 L586.7,457.3 L584.3,459.7 L581.9,457.3Z" fill="#f060f0"/>
<text x="595.4" y="460.3" fill="#000">sgUSP29 #2</text>
<text x="595.4" y="470.0" fill="#000">+ Nec-1s</text>
<line x1="645.5" y1="358.6" x2="645.5" y2="369.7" stroke="#333" stroke-width="1"/>
<text transform="translate(655.4,364.6) rotate(-90)" text-anchor="middle" fill="#000"><tspan font-style="italic">P</tspan> &lt; 0.0001</text>
<line x1="656.5" y1="371.6" x2="656.5" y2="383.7" stroke="#333" stroke-width="1"/>
<text transform="translate(665.6,377.2) rotate(-90)" text-anchor="middle" fill="#000"><tspan font-style="italic">P</tspan> = 0.0002</text>
<line x1="668.5" y1="371.6" x2="668.5" y2="458.0" stroke="#333" stroke-width="1"/>
<text transform="translate(678.6,447.2) rotate(-90)" text-anchor="middle" fill="#000">NS</text>
<line x1="671.5" y1="371.6" x2="671.5" y2="436.6" stroke="#333" stroke-width="1"/>
<text transform="translate(680.6,420.4) rotate(-90)" text-anchor="middle" fill="#000">NS</text>
<line x1="674.5" y1="371.6" x2="674.5" y2="411.5" stroke="#333" stroke-width="1"/>
<text transform="translate(684.0,390.6) rotate(-90)" text-anchor="middle" fill="#000">NS</text>
<text x="94.2" y="547.9" font-size="11.8" font-weight="bold" fill="#000" style="stroke:none;text-rendering:geometricPrecision">k</text>
<text x="192.7" y="545.8" text-anchor="middle" fill="#000">AGS-R xenograft</text>
<line x1="142.5" y1="553.2" x2="142.5" y2="653.9" stroke="#555" stroke-width="1"/>
<line x1="140.0" y1="653.5" x2="142.5" y2="653.5" stroke="#555" stroke-width="1"/>
<text x="134.3" y="656.4" text-anchor="end" fill="#000">0</text>
<line x1="140.0" y1="633.5" x2="142.5" y2="633.5" stroke="#555" stroke-width="1"/>
<text x="134.3" y="636.4" text-anchor="end" fill="#000">200</text>
<line x1="140.0" y1="613.5" x2="142.5" y2="613.5" stroke="#555" stroke-width="1"/>
<text x="134.3" y="616.4" text-anchor="end" fill="#000">400</text>
<line x1="140.0" y1="593.5" x2="142.5" y2="593.5" stroke="#555" stroke-width="1"/>
<text x="134.3" y="596.4" text-anchor="end" fill="#000">600</text>
<line x1="140.0" y1="573.5" x2="142.5" y2="573.5" stroke="#555" stroke-width="1"/>
<text x="134.3" y="576.4" text-anchor="end" fill="#000">800</text>
<line x1="140.0" y1="553.5" x2="142.5" y2="553.5" stroke="#555" stroke-width="1"/>
<text x="134.3" y="556.4" text-anchor="end" fill="#000">1000</text>
<line x1="139.5" y1="653.5" x2="242.7" y2="653.5" stroke="#555" stroke-width="1"/>
<line x1="152.5" y1="653.5" x2="152.5" y2="656.0" stroke="#555" stroke-width="1"/>
<line x1="172.5" y1="653.5" x2="172.5" y2="656.0" stroke="#555" stroke-width="1"/>
<line x1="192.5" y1="653.5" x2="192.5" y2="656.0" stroke="#555" stroke-width="1"/>
<line x1="212.5" y1="653.5" x2="212.5" y2="656.0" stroke="#555" stroke-width="1"/>
<line x1="232.5" y1="653.5" x2="232.5" y2="656.0" stroke="#555" stroke-width="1"/>
<text x="152.6" y="667.9" text-anchor="middle" fill="#000">1</text>
<text x="172.4" y="667.9" text-anchor="middle" fill="#000">7</text>
<text x="192.6" y="667.9" text-anchor="middle" fill="#000">14</text>
<text x="212.6" y="667.9" text-anchor="middle" fill="#000">21</text>
<text x="232.6" y="667.9" text-anchor="middle" fill="#000">28</text>
<text x="192.5" y="679.9" text-anchor="middle" fill="#000">Days after treatment</text>
<text transform="translate(107.4,603.5) rotate(-90)" text-anchor="middle" fill="#000">Tumor volume (mm<tspan dy="-2.8" font-size="5.5">3</tspan><tspan dy="2.8">)</tspan></text>
<polyline points="152.6,643.4 172.4,641.0 192.6,639.0 212.6,636.0 232.6,632.0" fill="none" stroke="#5fd08a" stroke-width="1.1"/>
<path d="M152.6,645.8 L155.0,641.4 L150.2,641.4Z" fill="#5fd08a"/>
<line x1="172.4" y1="638.5" x2="172.4" y2="643.5" stroke="#5fd08a" stroke-width="0.9"/>
<line x1="170.20000000000002" y1="638.5" x2="174.6" y2="638.5" stroke="#5fd08a" stroke-width="0.9"/>
<line x1="170.20000000000002" y1="643.5" x2="174.6" y2="643.5" stroke="#5fd08a" stroke-width="0.9"/>
<path d="M172.4,643.4 L174.8,639.0 L170.0,639.0Z" fill="#5fd08a"/>
<line x1="192.6" y1="636.5" x2="192.6" y2="641.5" stroke="#5fd08a" stroke-width="0.9"/>
<line x1="190.4" y1="636.5" x2="194.79999999999998" y2="636.5" stroke="#5fd08a" stroke-width="0.9"/>
<line x1="190.4" y1="641.5" x2="194.79999999999998" y2="641.5" stroke="#5fd08a" stroke-width="0.9"/>
<path d="M192.6,641.4 L195.0,637.0 L190.2,637.0Z" fill="#5fd08a"/>
<line x1="212.6" y1="633.0" x2="212.6" y2="639.0" stroke="#5fd08a" stroke-width="0.9"/>
<line x1="210.4" y1="633.0" x2="214.79999999999998" y2="633.0" stroke="#5fd08a" stroke-width="0.9"/>
<line x1="210.4" y1="639.0" x2="214.79999999999998" y2="639.0" stroke="#5fd08a" stroke-width="0.9"/>
<path d="M212.6,638.4 L215.0,634.0 L210.2,634.0Z" fill="#5fd08a"/>
<line x1="232.6" y1="628.0" x2="232.6" y2="636.0" stroke="#5fd08a" stroke-width="0.9"/>
<line x1="230.4" y1="628.0" x2="234.79999999999998" y2="628.0" stroke="#5fd08a" stroke-width="0.9"/>
<line x1="230.4" y1="636.0" x2="234.79999999999998" y2="636.0" stroke="#5fd08a" stroke-width="0.9"/>
<path d="M232.6,634.4 L235.0,630.0 L230.2,630.0Z" fill="#5fd08a"/>
<polyline points="152.6,643.4 172.4,638.0 192.6,628.0 212.6,619.4 232.6,611.0" fill="none" stroke="#c98af2" stroke-width="1.1"/>
<circle cx="152.6" cy="643.4" r="2.2" fill="#c98af2"/>
<line x1="172.4" y1="636.5" x2="172.4" y2="639.5" stroke="#c98af2" stroke-width="0.9"/>
<line x1="170.20000000000002" y1="636.5" x2="174.6" y2="636.5" stroke="#c98af2" stroke-width="0.9"/>
<line x1="170.20000000000002" y1="639.5" x2="174.6" y2="639.5" stroke="#c98af2" stroke-width="0.9"/>
<circle cx="172.4" cy="638.0" r="2.2" fill="#c98af2"/>
<line x1="192.6" y1="626.0" x2="192.6" y2="630.0" stroke="#c98af2" stroke-width="0.9"/>
<line x1="190.4" y1="626.0" x2="194.79999999999998" y2="626.0" stroke="#c98af2" stroke-width="0.9"/>
<line x1="190.4" y1="630.0" x2="194.79999999999998" y2="630.0" stroke="#c98af2" stroke-width="0.9"/>
<circle cx="192.6" cy="628.0" r="2.2" fill="#c98af2"/>
<line x1="212.6" y1="615.9" x2="212.6" y2="622.9" stroke="#c98af2" stroke-width="0.9"/>
<line x1="210.4" y1="615.9" x2="214.79999999999998" y2="615.9" stroke="#c98af2" stroke-width="0.9"/>
<line x1="210.4" y1="622.9" x2="214.79999999999998" y2="622.9" stroke="#c98af2" stroke-width="0.9"/>
<circle cx="212.6" cy="619.4" r="2.2" fill="#c98af2"/>
<line x1="232.6" y1="606.5" x2="232.6" y2="615.5" stroke="#c98af2" stroke-width="0.9"/>
<line x1="230.4" y1="606.5" x2="234.79999999999998" y2="606.5" stroke="#c98af2" stroke-width="0.9"/>
<line x1="230.4" y1="615.5" x2="234.79999999999998" y2="615.5" stroke="#c98af2" stroke-width="0.9"/>
<circle cx="232.6" cy="611.0" r="2.2" fill="#c98af2"/>
<polyline points="152.6,643.4 172.4,632.0 192.6,618.0 212.6,606.6 232.6,596.0" fill="none" stroke="#8a8cf0" stroke-width="1.1"/>
<path d="M152.6,640.8 L155.2,643.4 L152.6,646.0 L150.0,643.4Z" fill="#8a8cf0"/>
<line x1="172.4" y1="630.5" x2="172.4" y2="633.5" stroke="#8a8cf0" stroke-width="0.9"/>
<line x1="170.20000000000002" y1="630.5" x2="174.6" y2="630.5" stroke="#8a8cf0" stroke-width="0.9"/>
<line x1="170.20000000000002" y1="633.5" x2="174.6" y2="633.5" stroke="#8a8cf0" stroke-width="0.9"/>
<path d="M172.4,629.4 L175.0,632.0 L172.4,634.6 L169.8,632.0Z" fill="#8a8cf0"/>
<line x1="192.6" y1="615.0" x2="192.6" y2="621.0" stroke="#8a8cf0" stroke-width="0.9"/>
<line x1="190.4" y1="615.0" x2="194.79999999999998" y2="615.0" stroke="#8a8cf0" stroke-width="0.9"/>
<line x1="190.4" y1="621.0" x2="194.79999999999998" y2="621.0" stroke="#8a8cf0" stroke-width="0.9"/>
<path d="M192.6,615.4 L195.2,618.0 L192.6,620.6 L190.0,618.0Z" fill="#8a8cf0"/>
<line x1="212.6" y1="603.1" x2="212.6" y2="610.1" stroke="#8a8cf0" stroke-width="0.9"/>
<line x1="210.4" y1="603.1" x2="214.79999999999998" y2="603.1" stroke="#8a8cf0" stroke-width="0.9"/>
<line x1="210.4" y1="610.1" x2="214.79999999999998" y2="610.1" stroke="#8a8cf0" stroke-width="0.9"/>
<path d="M212.6,604.0 L215.2,606.6 L212.6,609.2 L210.0,606.6Z" fill="#8a8cf0"/>
<line x1="232.6" y1="592.0" x2="232.6" y2="600.0" stroke="#8a8cf0" stroke-width="0.9"/>
<line x1="230.4" y1="592.0" x2="234.79999999999998" y2="592.0" stroke="#8a8cf0" stroke-width="0.9"/>
<line x1="230.4" y1="600.0" x2="234.79999999999998" y2="600.0" stroke="#8a8cf0" stroke-width="0.9"/>
<path d="M232.6,593.4 L235.2,596.0 L232.6,598.6 L230.0,596.0Z" fill="#8a8cf0"/>
<polyline points="152.6,643.0 172.4,631.4 192.6,617.0 212.6,603.0 232.6,594.0" fill="none" stroke="#ea7d7d" stroke-width="1.1"/>
<path d="M152.6,640.6 L155.0,645.0 L150.2,645.0Z" fill="#ea7d7d"/>
<line x1="172.4" y1="628.9" x2="172.4" y2="633.9" stroke="#ea7d7d" stroke-width="0.9"/>
<line x1="170.20000000000002" y1="628.9" x2="174.6" y2="628.9" stroke="#ea7d7d" stroke-width="0.9"/>
<line x1="170.20000000000002" y1="633.9" x2="174.6" y2="633.9" stroke="#ea7d7d" stroke-width="0.9"/>
<path d="M172.4,629.0 L174.8,633.4 L170.0,633.4Z" fill="#ea7d7d"/>
<line x1="192.6" y1="612.5" x2="192.6" y2="621.5" stroke="#ea7d7d" stroke-width="0.9"/>
<line x1="190.4" y1="612.5" x2="194.79999999999998" y2="612.5" stroke="#ea7d7d" stroke-width="0.9"/>
<line x1="190.4" y1="621.5" x2="194.79999999999998" y2="621.5" stroke="#ea7d7d" stroke-width="0.9"/>
<path d="M192.6,614.6 L195.0,619.0 L190.2,619.0Z" fill="#ea7d7d"/>
<line x1="212.6" y1="599.0" x2="212.6" y2="607.0" stroke="#ea7d7d" stroke-width="0.9"/>
<line x1="210.4" y1="599.0" x2="214.79999999999998" y2="599.0" stroke="#ea7d7d" stroke-width="0.9"/>
<line x1="210.4" y1="607.0" x2="214.79999999999998" y2="607.0" stroke="#ea7d7d" stroke-width="0.9"/>
<path d="M212.6,600.6 L215.0,605.0 L210.2,605.0Z" fill="#ea7d7d"/>
<line x1="232.6" y1="590.0" x2="232.6" y2="598.0" stroke="#ea7d7d" stroke-width="0.9"/>
<line x1="230.4" y1="590.0" x2="234.79999999999998" y2="590.0" stroke="#ea7d7d" stroke-width="0.9"/>
<line x1="230.4" y1="598.0" x2="234.79999999999998" y2="598.0" stroke="#ea7d7d" stroke-width="0.9"/>
<path d="M232.6,591.6 L235.0,596.0 L230.2,596.0Z" fill="#ea7d7d"/>
<polyline points="152.6,642.0 172.4,628.4 192.6,611.0 212.6,598.0 232.6,585.6" fill="none" stroke="#efc182" stroke-width="1.1"/>
<rect x="150.4" y="639.8" width="4.4" height="4.4" fill="#efc182"/>
<line x1="172.4" y1="626.4" x2="172.4" y2="630.4" stroke="#efc182" stroke-width="0.9"/>
<line x1="170.20000000000002" y1="626.4" x2="174.6" y2="626.4" stroke="#efc182" stroke-width="0.9"/>
<line x1="170.20000000000002" y1="630.4" x2="174.6" y2="630.4" stroke="#efc182" stroke-width="0.9"/>
<rect x="170.2" y="626.2" width="4.4" height="4.4" fill="#efc182"/>
<line x1="192.6" y1="607.0" x2="192.6" y2="615.0" stroke="#efc182" stroke-width="0.9"/>
<line x1="190.4" y1="607.0" x2="194.79999999999998" y2="607.0" stroke="#efc182" stroke-width="0.9"/>
<line x1="190.4" y1="615.0" x2="194.79999999999998" y2="615.0" stroke="#efc182" stroke-width="0.9"/>
<rect x="190.4" y="608.8" width="4.4" height="4.4" fill="#efc182"/>
<line x1="212.6" y1="595.0" x2="212.6" y2="601.0" stroke="#efc182" stroke-width="0.9"/>
<line x1="210.4" y1="595.0" x2="214.79999999999998" y2="595.0" stroke="#efc182" stroke-width="0.9"/>
<line x1="210.4" y1="601.0" x2="214.79999999999998" y2="601.0" stroke="#efc182" stroke-width="0.9"/>
<rect x="210.4" y="595.8" width="4.4" height="4.4" fill="#efc182"/>
<line x1="232.6" y1="581.6" x2="232.6" y2="589.6" stroke="#efc182" stroke-width="0.9"/>
<line x1="230.4" y1="581.6" x2="234.79999999999998" y2="581.6" stroke="#efc182" stroke-width="0.9"/>
<line x1="230.4" y1="589.6" x2="234.79999999999998" y2="589.6" stroke="#efc182" stroke-width="0.9"/>
<rect x="230.4" y="583.4" width="4.4" height="4.4" fill="#efc182"/>
<polyline points="152.6,643.4 172.4,627.0 192.6,608.0 212.6,592.6 232.6,575.6" fill="none" stroke="#8fc0f0" stroke-width="1.1"/>
<circle cx="152.6" cy="643.4" r="2.2" fill="#8fc0f0"/>
<line x1="172.4" y1="624.5" x2="172.4" y2="629.5" stroke="#8fc0f0" stroke-width="0.9"/>
<line x1="170.20000000000002" y1="624.5" x2="174.6" y2="624.5" stroke="#8fc0f0" stroke-width="0.9"/>
<line x1="170.20000000000002" y1="629.5" x2="174.6" y2="629.5" stroke="#8fc0f0" stroke-width="0.9"/>
<circle cx="172.4" cy="627.0" r="2.2" fill="#8fc0f0"/>
<line x1="192.6" y1="602.5" x2="192.6" y2="613.5" stroke="#8fc0f0" stroke-width="0.9"/>
<line x1="190.4" y1="602.5" x2="194.79999999999998" y2="602.5" stroke="#8fc0f0" stroke-width="0.9"/>
<line x1="190.4" y1="613.5" x2="194.79999999999998" y2="613.5" stroke="#8fc0f0" stroke-width="0.9"/>
<circle cx="192.6" cy="608.0" r="2.2" fill="#8fc0f0"/>
<line x1="212.6" y1="589.1" x2="212.6" y2="596.1" stroke="#8fc0f0" stroke-width="0.9"/>
<line x1="210.4" y1="589.1" x2="214.79999999999998" y2="589.1" stroke="#8fc0f0" stroke-width="0.9"/>
<line x1="210.4" y1="596.1" x2="214.79999999999998" y2="596.1" stroke="#8fc0f0" stroke-width="0.9"/>
<circle cx="212.6" cy="592.6" r="2.2" fill="#8fc0f0"/>
<line x1="232.6" y1="569.5999999999999" x2="232.6" y2="581.5999999999999" stroke="#8fc0f0" stroke-width="0.9"/>
<line x1="230.4" y1="569.5999999999999" x2="234.79999999999998" y2="569.5999999999999" stroke="#8fc0f0" stroke-width="0.9"/>
<line x1="230.4" y1="581.5999999999999" x2="234.79999999999998" y2="581.5999999999999" stroke="#8fc0f0" stroke-width="0.9"/>
<circle cx="232.6" cy="575.6" r="2.2" fill="#8fc0f0"/>
<line x1="250.3" y1="553.0" x2="263.3" y2="553.0" stroke="#8fc0f0" stroke-width="1.1"/>
<circle cx="256.8" cy="553.0" r="2.0" fill="#8fc0f0"/>
<text x="269.8" y="556.0" fill="#000">sgCtrl; Vehicle</text>
<line x1="250.3" y1="567.1" x2="263.3" y2="567.1" stroke="#efc182" stroke-width="1.1"/>
<rect x="254.8" y="565.1" width="4.0" height="4.0" fill="#efc182"/>
<text x="269.8" y="570.1" fill="#000">sgCtrl; Cisplatin</text>
<line x1="250.3" y1="585.4" x2="263.3" y2="585.4" stroke="#ea7d7d" stroke-width="1.1"/>
<path d="M256.8,583.2 L259.0,587.2 L254.6,587.2Z" fill="#ea7d7d"/>
<text x="269.8" y="582.8" fill="#000">sgUSP29 #2;</text>
<text x="269.8" y="592.6" fill="#000">Vehicle</text>
<line x1="250.3" y1="607.9" x2="263.3" y2="607.9" stroke="#5fd08a" stroke-width="1.1"/>
<path d="M256.8,610.1 L259.0,606.1 L254.6,606.1Z" fill="#5fd08a"/>
<text x="269.8" y="605.3" fill="#000">sgUSP29 #2;</text>
<text x="269.8" y="615.1" fill="#000">Cisplatin</text>
<line x1="250.3" y1="630.8" x2="263.3" y2="630.8" stroke="#8a8cf0" stroke-width="1.1"/>
<path d="M256.8,628.4 L259.2,630.8 L256.8,633.2 L254.4,630.8Z" fill="#8a8cf0"/>
<text x="269.8" y="628.1999999999999" fill="#000">sgUSP29 #2;</text>
<text x="269.8" y="638.0" fill="#000">Lip-1</text>
<line x1="250.3" y1="653.8" x2="263.3" y2="653.8" stroke="#c98af2" stroke-width="1.1"/>
<circle cx="256.8" cy="653.8" r="2.0" fill="#c98af2"/>
<text x="269.8" y="651.1999999999999" fill="#000">sgUSP29 #2;</text>
<text x="269.8" y="661.0" fill="#000">Cisplatin+Lip-1</text>
<line x1="326.5" y1="585.7" x2="326.5" y2="607.7" stroke="#333" stroke-width="1"/>
<text transform="translate(335.4,597.0) rotate(-90)" text-anchor="middle" fill="#000"><tspan font-style="italic">P</tspan> &lt; 0.0001</text>
<line x1="342.5" y1="567.6" x2="342.5" y2="607.7" stroke="#333" stroke-width="1"/>
<text transform="translate(351.7,588.0) rotate(-90)" text-anchor="middle" fill="#000"><tspan font-style="italic">P</tspan> &lt; 0.0001</text>
<line x1="337.5" y1="608.5" x2="337.5" y2="653.3" stroke="#333" stroke-width="1"/>
<text transform="translate(347.1,631.3) rotate(-90)" text-anchor="middle" fill="#000"><tspan font-style="italic">P</tspan> &lt; 0.0001</text>
<text x="407.5" y="547.9" font-size="11.8" font-weight="bold" fill="#000" style="stroke:none;text-rendering:geometricPrecision">l</text>
<line x1="456.5" y1="553.2" x2="456.5" y2="653.9" stroke="#555" stroke-width="1"/>
<line x1="454.0" y1="653.5" x2="456.5" y2="653.5" stroke="#555" stroke-width="1"/>
<text x="448.6" y="656.4" text-anchor="end" fill="#000">0.0</text>
<line x1="454.0" y1="620.5" x2="456.5" y2="620.5" stroke="#555" stroke-width="1"/>
<text x="448.6" y="623.0649999999999" text-anchor="end" fill="#000">0.5</text>
<line x1="454.0" y1="586.5" x2="456.5" y2="586.5" stroke="#555" stroke-width="1"/>
<text x="448.6" y="589.73" text-anchor="end" fill="#000">1.0</text>
<line x1="454.0" y1="553.5" x2="456.5" y2="553.5" stroke="#555" stroke-width="1"/>
<text x="448.6" y="556.395" text-anchor="end" fill="#000">1.5</text>
<line x1="453.5" y1="653.5" x2="557.0" y2="653.5" stroke="#555" stroke-width="1"/>
<line x1="467.5" y1="653.5" x2="467.5" y2="656.0" stroke="#555" stroke-width="1"/>
<line x1="483.5" y1="653.5" x2="483.5" y2="656.0" stroke="#555" stroke-width="1"/>
<line x1="499.5" y1="653.5" x2="499.5" y2="656.0" stroke="#555" stroke-width="1"/>
<line x1="516.5" y1="653.5" x2="516.5" y2="656.0" stroke="#555" stroke-width="1"/>
<line x1="532.5" y1="653.5" x2="532.5" y2="656.0" stroke="#555" stroke-width="1"/>
<line x1="549.5" y1="653.5" x2="549.5" y2="656.0" stroke="#555" stroke-width="1"/>
<text transform="translate(427.7,604.0) rotate(-90)" text-anchor="middle" fill="#000">Tumor weight (g)</text>
<circle cx="463.7" cy="575.0" r="1.9" fill="#8fc0f0"/>
<circle cx="470.8" cy="578.7" r="1.9" fill="#8fc0f0"/>
<circle cx="467.3" cy="586.0" r="1.9" fill="#8fc0f0"/>
<circle cx="467.3" cy="588.8" r="1.9" fill="#8fc0f0"/>
<circle cx="467.3" cy="592.2" r="1.9" fill="#8fc0f0"/>
<line x1="462.1" y1="583.3" x2="472.5" y2="583.3" stroke="#8fc0f0" stroke-width="1.0"/>
<line x1="464.3" y1="580.6999999999999" x2="470.3" y2="580.6999999999999" stroke="#8fc0f0" stroke-width="1.0"/>
<line x1="464.3" y1="585.9" x2="470.3" y2="585.9" stroke="#8fc0f0" stroke-width="1.0"/>
<line x1="467.3" y1="580.6999999999999" x2="467.3" y2="585.9" stroke="#8fc0f0" stroke-width="1.0"/>
<rect x="478.4" y="582.9" width="3.8" height="3.8" fill="#efc182"/>
<rect x="485.3" y="586.5" width="3.8" height="3.8" fill="#efc182"/>
<rect x="477.6" y="588.8" width="3.8" height="3.8" fill="#efc182"/>
<rect x="485.3" y="591.1" width="3.8" height="3.8" fill="#efc182"/>
<rect x="481.5" y="595.7" width="3.8" height="3.8" fill="#efc182"/>
<rect x="481.5" y="588.9" width="3.8" height="3.8" fill="#efc182"/>
<rect x="481.5" y="590.1" width="3.8" height="3.8" fill="#efc182"/>
<line x1="478.2" y1="591.4" x2="488.59999999999997" y2="591.4" stroke="#efc182" stroke-width="1.0"/>
<line x1="480.4" y1="589.1999999999999" x2="486.4" y2="589.1999999999999" stroke="#efc182" stroke-width="1.0"/>
<line x1="480.4" y1="593.6" x2="486.4" y2="593.6" stroke="#efc182" stroke-width="1.0"/>
<line x1="483.4" y1="589.1999999999999" x2="483.4" y2="593.6" stroke="#efc182" stroke-width="1.0"/>
<path d="M499.9,591.6 L502.0,595.4 L497.8,595.4Z" fill="#ea7d7d"/>
<path d="M496.4,597.0 L498.5,600.8 L494.3,600.8Z" fill="#ea7d7d"/>
<path d="M503.3,598.1 L505.4,601.9 L501.2,601.9Z" fill="#ea7d7d"/>
<path d="M499.9,598.4 L502.0,602.2 L497.8,602.2Z" fill="#ea7d7d"/>
<path d="M499.9,606.2 L502.0,610.0 L497.8,610.0Z" fill="#ea7d7d"/>
<line x1="494.7" y1="599.9" x2="505.09999999999997" y2="599.9" stroke="#ea7d7d" stroke-width="1.0"/>
<line x1="496.9" y1="598.1" x2="502.9" y2="598.1" stroke="#ea7d7d" stroke-width="1.0"/>
<line x1="496.9" y1="601.6999999999999" x2="502.9" y2="601.6999999999999" stroke="#ea7d7d" stroke-width="1.0"/>
<line x1="499.9" y1="598.1" x2="499.9" y2="601.6999999999999" stroke="#ea7d7d" stroke-width="1.0"/>
<path d="M513.0,633.4 L515.1,629.6 L510.9,629.6Z" fill="#5fd08a"/>
<path d="M520.1,635.7 L522.2,631.9 L518.0,631.9Z" fill="#5fd08a"/>
<path d="M516.3,638.0 L518.4,634.2 L514.2,634.2Z" fill="#5fd08a"/>
<path d="M520.1,640.1 L522.2,636.3 L518.0,636.3Z" fill="#5fd08a"/>
<path d="M513.0,643.1 L515.1,639.3 L510.9,639.3Z" fill="#5fd08a"/>
<line x1="511.09999999999997" y1="636.2" x2="521.5" y2="636.2" stroke="#5fd08a" stroke-width="1.0"/>
<line x1="513.3" y1="634.6" x2="519.3" y2="634.6" stroke="#5fd08a" stroke-width="1.0"/>
<line x1="513.3" y1="637.8000000000001" x2="519.3" y2="637.8000000000001" stroke="#5fd08a" stroke-width="1.0"/>
<line x1="516.3" y1="634.6" x2="516.3" y2="637.8000000000001" stroke="#5fd08a" stroke-width="1.0"/>
<path d="M532.7,593.7 L535.0,596.0 L532.7,598.3 L530.4,596.0Z" fill="#8a8cf0"/>
<path d="M529.3,599.9 L531.6,602.2 L529.3,604.5 L527.0,602.2Z" fill="#8a8cf0"/>
<path d="M536.2,602.2 L538.5,604.5 L536.2,606.8 L533.9,604.5Z" fill="#8a8cf0"/>
<path d="M529.3,605.2 L531.6,607.5 L529.3,609.8 L527.0,607.5Z" fill="#8a8cf0"/>
<path d="M532.7,600.7 L535.0,603.0 L532.7,605.3 L530.4,603.0Z" fill="#8a8cf0"/>
<line x1="527.5" y1="603.4" x2="537.9000000000001" y2="603.4" stroke="#8a8cf0" stroke-width="1.0"/>
<line x1="529.7" y1="601.9" x2="535.7" y2="601.9" stroke="#8a8cf0" stroke-width="1.0"/>
<line x1="529.7" y1="604.9" x2="535.7" y2="604.9" stroke="#8a8cf0" stroke-width="1.0"/>
<line x1="532.7" y1="601.9" x2="532.7" y2="604.9" stroke="#8a8cf0" stroke-width="1.0"/>
<circle cx="549.3" cy="607.5" r="1.9" fill="#c98af2"/>
<circle cx="545.9" cy="614.5" r="1.9" fill="#c98af2"/>
<circle cx="552.8" cy="618.0" r="1.9" fill="#c98af2"/>
<circle cx="545.9" cy="621.0" r="1.9" fill="#c98af2"/>
<circle cx="549.3" cy="615.0" r="1.9" fill="#c98af2"/>
<line x1="544.0999999999999" y1="615.5" x2="554.5" y2="615.5" stroke="#c98af2" stroke-width="1.0"/>
<line x1="546.3" y1="613.7" x2="552.3" y2="613.7" stroke="#c98af2" stroke-width="1.0"/>
<line x1="546.3" y1="617.3" x2="552.3" y2="617.3" stroke="#c98af2" stroke-width="1.0"/>
<line x1="549.3" y1="613.7" x2="549.3" y2="617.3" stroke="#c98af2" stroke-width="1.0"/>
<text x="448.4" y="669.6" text-anchor="end" fill="#000">sgUSP29 #2</text>
<text x="448.4" y="682.7" text-anchor="end" fill="#000">Cisplatin</text>
<text x="448.4" y="696.2" text-anchor="end" fill="#000">Lip-1</text>
<text x="467.3" y="670.3" text-anchor="middle" fill="#000">−</text>
<text x="483.4" y="670.3" text-anchor="middle" fill="#000">−</text>
<text x="499.9" y="670.3" text-anchor="middle" fill="#000">+</text>
<text x="516.3" y="670.3" text-anchor="middle" fill="#000">+</text>
<text x="532.7" y="670.3" text-anchor="middle" fill="#000">+</text>
<text x="549.3" y="670.3" text-anchor="middle" fill="#000">+</text>
<text x="467.3" y="683.0" text-anchor="middle" fill="#000">−</text>
<text x="483.4" y="683.0" text-anchor="middle" fill="#000">+</text>
<text x="499.9" y="683.0" text-anchor="middle" fill="#000">−</text>
<text x="516.3" y="683.0" text-anchor="middle" fill="#000">+</text>
<text x="532.7" y="683.0" text-anchor="middle" fill="#000">−</text>
<text x="549.3" y="683.0" text-anchor="middle" fill="#000">+</text>
<text x="467.3" y="696.8" text-anchor="middle" fill="#000">−</text>
<text x="483.4" y="696.8" text-anchor="middle" fill="#000">−</text>
<text x="499.9" y="696.8" text-anchor="middle" fill="#000">−</text>
<text x="516.3" y="696.8" text-anchor="middle" fill="#000">−</text>
<text x="532.7" y="696.8" text-anchor="middle" fill="#000">+</text>
<text x="549.3" y="696.8" text-anchor="middle" fill="#000">+</text>
<line x1="484.2" y1="561.5" x2="516.4" y2="561.5" stroke="#222" stroke-width="1"/>
<text x="499.7" y="557.8" text-anchor="middle" fill="#000"><tspan font-style="italic">P</tspan> &lt; 0.0001</text>
<line x1="516.4" y1="574.5" x2="549.2" y2="574.5" stroke="#222" stroke-width="1"/>
<text x="532.6" y="570.8" text-anchor="middle" fill="#000"><tspan font-style="italic">P</tspan> &lt; 0.0001</text>
<line x1="500.3" y1="587.5" x2="516.4" y2="587.5" stroke="#222" stroke-width="1"/>
<text x="508.3" y="584.6" text-anchor="middle" fill="#000"><tspan font-style="italic">P</tspan> &lt; 0.0001</text>
</svg></body></html>
